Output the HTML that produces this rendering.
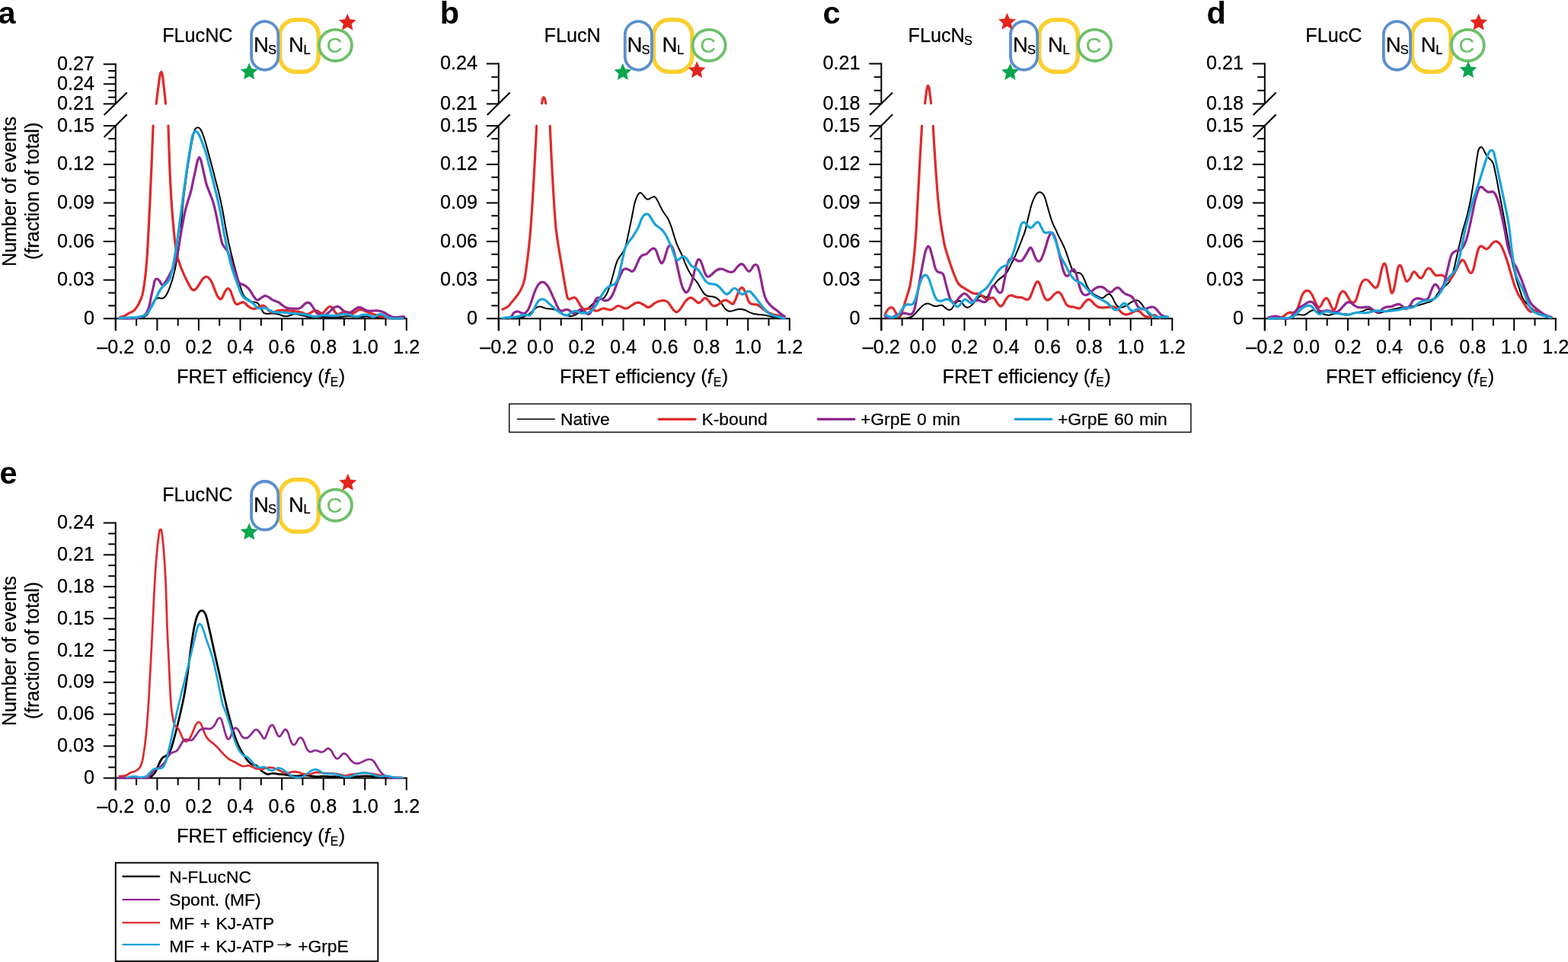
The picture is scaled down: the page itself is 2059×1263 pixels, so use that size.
<!DOCTYPE html>
<html lang="en">
<head>
<meta charset="utf-8">
<title>FRET efficiency histograms</title>
<style>
html,body{margin:0;padding:0;background:#fff;}
body{width:2059px;height:1263px;overflow:hidden;}
svg{display:block;font-family:'Liberation Sans', Arial, Helvetica, sans-serif;}
text{stroke:#000;stroke-width:0.25px;}
text.b{stroke:none;}
text.g{stroke:#6cc069;}
</style>
</head>
<body>
<svg width="2059" height="1263" viewBox="0 0 2059 1263">
<rect width="2059" height="1263" fill="#fff"/>
<line x1="135.8" y1="418.2" x2="534.8" y2="418.2" stroke="#000" stroke-width="2.0"/>
<line x1="151.8" y1="418.2" x2="151.8" y2="434.2" stroke="#000" stroke-width="2.0"/>
<line x1="179.1" y1="418.2" x2="179.1" y2="427.7" stroke="#000" stroke-width="2.0"/>
<line x1="206.4" y1="418.2" x2="206.4" y2="434.2" stroke="#000" stroke-width="2.0"/>
<line x1="233.7" y1="418.2" x2="233.7" y2="427.7" stroke="#000" stroke-width="2.0"/>
<line x1="260.9" y1="418.2" x2="260.9" y2="434.2" stroke="#000" stroke-width="2.0"/>
<line x1="288.2" y1="418.2" x2="288.2" y2="427.7" stroke="#000" stroke-width="2.0"/>
<line x1="315.5" y1="418.2" x2="315.5" y2="434.2" stroke="#000" stroke-width="2.0"/>
<line x1="342.8" y1="418.2" x2="342.8" y2="427.7" stroke="#000" stroke-width="2.0"/>
<line x1="370.1" y1="418.2" x2="370.1" y2="434.2" stroke="#000" stroke-width="2.0"/>
<line x1="397.4" y1="418.2" x2="397.4" y2="427.7" stroke="#000" stroke-width="2.0"/>
<line x1="424.7" y1="418.2" x2="424.7" y2="434.2" stroke="#000" stroke-width="2.0"/>
<line x1="451.9" y1="418.2" x2="451.9" y2="427.7" stroke="#000" stroke-width="2.0"/>
<line x1="479.2" y1="418.2" x2="479.2" y2="434.2" stroke="#000" stroke-width="2.0"/>
<line x1="506.5" y1="418.2" x2="506.5" y2="427.7" stroke="#000" stroke-width="2.0"/>
<line x1="533.8" y1="418.2" x2="533.8" y2="434.2" stroke="#000" stroke-width="2.0"/>
<text x="151.8" y="463.6" font-size="25.2" text-anchor="middle" fill="#000">–0.2</text>
<text x="206.4" y="463.6" font-size="25.2" text-anchor="middle" fill="#000">0.0</text>
<text x="260.9" y="463.6" font-size="25.2" text-anchor="middle" fill="#000">0.2</text>
<text x="315.5" y="463.6" font-size="25.2" text-anchor="middle" fill="#000">0.4</text>
<text x="370.1" y="463.6" font-size="25.2" text-anchor="middle" fill="#000">0.6</text>
<text x="424.7" y="463.6" font-size="25.2" text-anchor="middle" fill="#000">0.8</text>
<text x="479.2" y="463.6" font-size="25.2" text-anchor="middle" fill="#000">1.0</text>
<text x="533.8" y="463.6" font-size="25.2" text-anchor="middle" fill="#000">1.2</text>
<text x="342.5" y="503.2" font-size="25.4" text-anchor="middle">FRET efficiency (<tspan font-style="italic">f</tspan><tspan font-size="15.6" dy="3.4" dx="0.9">E</tspan><tspan dy="-3.4" dx="0.6">)</tspan></text>
<line x1="151.8" y1="434.2" x2="151.8" y2="165.2" stroke="#000" stroke-width="2.0"/>
<line x1="142.3" y1="401.3" x2="151.8" y2="401.3" stroke="#000" stroke-width="2.0"/>
<line x1="142.3" y1="384.5" x2="151.8" y2="384.5" stroke="#000" stroke-width="2.0"/>
<line x1="135.8" y1="367.6" x2="151.8" y2="367.6" stroke="#000" stroke-width="2.0"/>
<line x1="142.3" y1="350.7" x2="151.8" y2="350.7" stroke="#000" stroke-width="2.0"/>
<line x1="142.3" y1="333.9" x2="151.8" y2="333.9" stroke="#000" stroke-width="2.0"/>
<line x1="135.8" y1="317" x2="151.8" y2="317" stroke="#000" stroke-width="2.0"/>
<line x1="142.3" y1="300.1" x2="151.8" y2="300.1" stroke="#000" stroke-width="2.0"/>
<line x1="142.3" y1="283.3" x2="151.8" y2="283.3" stroke="#000" stroke-width="2.0"/>
<line x1="135.8" y1="266.4" x2="151.8" y2="266.4" stroke="#000" stroke-width="2.0"/>
<line x1="142.3" y1="249.5" x2="151.8" y2="249.5" stroke="#000" stroke-width="2.0"/>
<line x1="142.3" y1="232.7" x2="151.8" y2="232.7" stroke="#000" stroke-width="2.0"/>
<line x1="135.8" y1="215.8" x2="151.8" y2="215.8" stroke="#000" stroke-width="2.0"/>
<line x1="142.3" y1="198.9" x2="151.8" y2="198.9" stroke="#000" stroke-width="2.0"/>
<line x1="142.3" y1="182.1" x2="151.8" y2="182.1" stroke="#000" stroke-width="2.0"/>
<line x1="135.8" y1="165.2" x2="151.8" y2="165.2" stroke="#000" stroke-width="2.0"/>
<text x="124" y="425.8" font-size="25.2" text-anchor="end" fill="#000">0</text>
<text x="124" y="375.2" font-size="25.2" text-anchor="end" fill="#000">0.03</text>
<text x="124" y="324.6" font-size="25.2" text-anchor="end" fill="#000">0.06</text>
<text x="124" y="274" font-size="25.2" text-anchor="end" fill="#000">0.09</text>
<text x="124" y="223.4" font-size="25.2" text-anchor="end" fill="#000">0.12</text>
<text x="124" y="172.8" font-size="25.2" text-anchor="end" fill="#000">0.15</text>
<line x1="151.8" y1="136.4" x2="151.8" y2="83.3" stroke="#000" stroke-width="2.0"/>
<line x1="135.8" y1="136.4" x2="151.8" y2="136.4" stroke="#000" stroke-width="2.0"/>
<line x1="142.3" y1="127.7" x2="151.8" y2="127.7" stroke="#000" stroke-width="2.0"/>
<line x1="142.3" y1="119" x2="151.8" y2="119" stroke="#000" stroke-width="2.0"/>
<line x1="135.8" y1="110.3" x2="151.8" y2="110.3" stroke="#000" stroke-width="2.0"/>
<line x1="142.3" y1="101.7" x2="151.8" y2="101.7" stroke="#000" stroke-width="2.0"/>
<line x1="142.3" y1="93" x2="151.8" y2="93" stroke="#000" stroke-width="2.0"/>
<line x1="135.8" y1="84.3" x2="151.8" y2="84.3" stroke="#000" stroke-width="2.0"/>
<text x="124" y="144" font-size="25.2" text-anchor="end" fill="#000">0.21</text>
<text x="124" y="117.9" font-size="25.2" text-anchor="end" fill="#000">0.24</text>
<text x="124" y="91.9" font-size="25.2" text-anchor="end" fill="#000">0.27</text>
<line x1="136.7" y1="151.1" x2="166.7" y2="121.6" stroke="#000" stroke-width="2.1"/>
<line x1="136.7" y1="179.9" x2="166.7" y2="150.3" stroke="#000" stroke-width="2.1"/>
<path d="M156.3 418C160.1 418 173.7 418 179.1 417.7C184.6 417.4 186.4 416.9 188.9 416.1C191.3 415.2 192.1 415 193.7 412.7C195.3 410.3 196.9 405.1 198.6 402C200.2 398.8 202 395.5 203.4 393.7C204.9 392 206.2 391.7 207.3 391.3C208.4 390.9 209.3 391.4 210.2 391.5C211.2 391.6 212.2 392 213.1 391.8C214.1 391.6 214.9 391.5 216.1 390.3C217.2 389.1 218.6 387.1 219.9 384.5C221.2 381.9 222.5 378.5 223.8 374.8C225.1 371.1 226.6 366.2 227.7 362.2C228.8 358.1 229.5 354.7 230.4 350.5C231.3 346.3 232.2 342.1 233.1 336.9C234 331.7 235.1 324.6 235.8 319.4C236.5 314.2 236.6 312.8 237.2 305.8C237.8 298.8 238.8 284.6 239.4 277.4C240 270.3 240.3 267.7 240.8 262.9C241.3 258 242 253.1 242.6 248.3C243.2 243.4 243.9 238.6 244.5 233.7C245.2 228.9 245.9 224 246.6 219.1C247.4 214.3 248.1 209.4 248.9 204.6C249.7 199.7 250.6 194.3 251.4 190C252.1 185.7 252.9 181.9 253.5 179C254.1 176.1 254.3 174.4 254.9 172.7C255.5 171 256 169.7 256.8 168.8C257.7 167.9 258.9 167.2 259.8 167.2C260.7 167.1 261.3 167.5 262.2 168.5C263.1 169.5 264.1 170.8 265.1 173.2C266.2 175.6 267.5 179.7 268.5 182.9C269.6 186.1 270.4 189 271.4 192.6C272.4 196.2 273.5 200.1 274.7 204.6C275.9 209 277.3 214.3 278.5 219.1C279.8 224 281.1 228.9 282.3 233.7C283.6 238.6 284.9 243.4 286.1 248.3C287.3 253.1 288.6 258.5 289.6 262.9C290.6 267.2 291.2 270.5 292 274.5C292.8 278.6 293.5 283.1 294.3 287.1C295 291.2 295.3 293.4 296.3 298.8C297.3 304.2 298.9 312.4 300.4 319.4C302 326.4 303.9 334.3 305.6 340.8C307.2 347.3 308.8 353.1 310.3 358.3C311.7 363.5 312.9 367.7 314.2 371.9C315.5 376.1 316.9 380.6 318 383.5C319.2 386.4 319.8 387.9 321 389.4C322.1 390.8 323.4 391.2 324.8 392.3C326.3 393.3 328.2 394.9 329.7 395.7C331.2 396.4 332.5 396.4 333.6 396.6C334.7 396.9 335.5 396.7 336.5 397.1C337.5 397.5 338.3 397.6 339.4 399.1C340.5 400.5 342.2 403.9 343.3 405.9C344.4 407.8 345.6 409.8 346.2 410.7C346.9 411.6 346.3 411 347.2 411.2C348 411.4 349.9 411.9 351.5 411.9C353 411.9 354.8 411.5 356.7 411.5C358.6 411.5 361 411.6 362.9 411.9C364.8 412.2 366.5 412.9 368.2 413.5C369.9 414 371.4 414.8 373 415.1C374.6 415.4 376.3 415.4 377.9 415.1C379.5 414.8 381.1 413.9 382.7 413.5C384.4 413 385 412 387.6 412.2C390.2 412.4 395.2 413.9 398.3 414.6C401.4 415.3 403.5 416 406.1 416.4C408.6 416.7 410.9 416.6 413.8 416.6C416.7 416.5 420.3 416.1 423.5 416.1C426.8 416.1 430 416.5 433.2 416.6C436.5 416.6 440 416.7 443 416.6C445.9 416.4 448.1 416 450.7 415.8C453.3 415.5 455.9 415.1 458.5 415.1C461.1 415.2 463.4 415.9 466.3 416.1C469.2 416.2 473.4 416.2 476 416.1C478.6 416 479.9 415.5 481.8 415.6C483.8 415.7 485.4 416.3 487.6 416.6C489.9 416.8 492.5 416.9 495.4 417C498.3 417.2 501.9 417.4 505.1 417.5C508.4 417.7 510.8 417.9 514.8 418C518.9 418.1 527 418.1 529.4 418.1" fill="none" stroke="#000" stroke-width="2.0" stroke-linejoin="round" stroke-linecap="round"/>
<path d="M156.9 417C157.3 416.9 158.4 416.6 159.7 416.1C161 415.6 163 414.9 164.6 414.1C166.2 413.3 167.6 412.2 169.4 411.2C171.2 410.2 173.6 409.5 175.3 408.3C176.9 407.1 177.8 405.8 179.1 403.9C180.4 402.1 181.7 399.9 183 397.1C184.3 394.4 185.9 391.3 186.9 387.4C188 383.5 188.6 378.7 189.3 373.8C190 369 190.7 364.1 191.3 358.3C191.9 352.5 192.5 345.3 193 338.9C193.5 332.4 193.7 328 194.2 319.4C194.6 310.8 195.4 295.8 195.8 287.1C196.3 278.5 196.5 274.2 196.8 267.7C197.1 261.2 197.4 254.8 197.6 248.3C197.9 241.8 198.2 235.3 198.5 228.9C198.8 222.4 199.1 215.9 199.3 209.4C199.6 203 199.9 195.7 200.1 190C200.3 184.3 200.5 179.3 200.7 175.1C200.8 171 201 166.8 201.1 165.1" fill="none" stroke="#de2a2b" stroke-width="3.2" stroke-linejoin="round" stroke-linecap="round"/>
<path d="M205.2 136.1C205.5 133.7 206.3 126.5 206.9 121.7C207.6 116.9 208.3 111.1 208.9 107.1C209.4 103.2 209.8 100 210.2 97.9C210.7 95.8 211.2 94.3 211.7 94.3C212.2 94.3 212.7 95.8 213.1 97.9C213.6 100 213.9 103.2 214.4 107.1C214.8 111.1 215.5 116.9 216 121.7C216.6 126.5 217.3 133.7 217.5 136.1" fill="none" stroke="#de2a2b" stroke-width="3.2" stroke-linejoin="round" stroke-linecap="round"/>
<path d="M221 165.1C221 166.8 221.2 171 221.3 175.1C221.5 179.3 221.6 184.3 221.8 190C222 195.7 222.2 203 222.4 209.4C222.6 215.9 222.9 222.4 223.2 228.9C223.5 235.3 223.8 241.8 224.2 248.3C224.5 254.8 224.9 261.2 225.4 267.7C225.8 274.2 226.2 279.6 226.8 287.1C227.5 294.6 228.5 306 229.2 312.6C229.9 319.3 230.5 322.8 231.2 327.2C232 331.6 232.5 335 233.5 338.9C234.6 342.7 236 346.6 237.4 350.5C238.9 354.4 240.7 358.6 242.3 362.2C243.9 365.7 245.7 369.1 247.1 371.9C248.6 374.6 249.9 377.2 251 378.7C252.2 380.2 253 380.7 253.9 380.8C254.9 381 255.7 380.7 256.8 379.7C258 378.6 259.3 376.9 260.7 374.8C262.2 372.7 264.3 368.8 265.6 367C266.9 365.2 267.6 364.7 268.5 364.1C269.4 363.5 270 363.2 270.9 363.3C271.9 363.5 273.1 363.8 274.3 365.1C275.5 366.3 276.9 368.3 278.2 370.9C279.5 373.5 280.8 377.5 282.1 380.6C283.4 383.7 284.8 387.3 286 389.4C287.2 391.4 288.4 392.5 289.4 392.8C290.4 393 290.9 392.2 291.8 390.8C292.7 389.4 293.8 386.4 294.7 384.5C295.7 382.6 296.8 380.6 297.6 379.7C298.5 378.7 299.3 378.5 300.1 378.9C300.9 379.2 301.6 379.8 302.5 381.6C303.4 383.3 304.4 386.8 305.4 389.4C306.4 392 307.4 395.4 308.3 397.1C309.3 398.8 310.1 399.4 311.2 399.6C312.4 399.7 313.8 398.6 315.1 398.1C316.4 397.6 317.9 396.6 319 396.6C320.1 396.6 320.8 397.2 321.9 398.1C323.1 399 324.5 400.9 325.8 402C327.1 403 328.2 403.9 329.7 404.4C331.2 405 332.9 405.6 334.6 405.4C336.2 405.2 337.5 404.1 339.4 403.4C341.3 402.8 344.1 401.1 345.8 401.2C347.5 401.3 348.4 402.6 349.7 403.8C351 405 352.1 407.4 353.6 408.4C355.1 409.4 356.8 410.1 358.5 410.1C360.1 410 361.7 408.8 363.3 408.3C364.9 407.9 366.4 407.5 368.2 407.3C369.9 407.2 371.9 407.2 374 407.3C376.1 407.4 378.4 407.8 380.8 408C383.2 408.3 386.3 408.5 388.6 408.8C390.8 409.1 392.8 409.4 394.4 409.8C396 410.2 396.8 410.7 398.3 411.2C399.7 411.7 401.5 412.8 403.1 412.7C404.8 412.6 406.4 411.5 408 410.7C409.6 409.9 411.4 408.2 412.9 407.8C414.3 407.4 415.4 407.8 416.7 408.3C418 408.8 419.5 410.2 420.6 410.7C421.8 411.2 422.6 411.5 423.5 411.2C424.5 410.9 425.3 410 426.4 408.8C427.6 407.6 429.2 405 430.3 403.9C431.5 402.9 432.3 402.5 433.2 402.5C434.2 402.5 435 402.7 436.2 403.9C437.3 405.1 438.9 408.3 440 409.8C441.2 411.2 441.8 412.4 443 412.7C444.1 413 445.4 412.3 446.8 411.7C448.3 411.1 450.1 409.6 451.7 409.3C453.3 409 454.9 409.4 456.6 409.8C458.2 410.2 460 411.5 461.4 411.7C462.9 411.9 464 411.4 465.3 410.7C466.6 410.1 467.9 408.5 469.2 407.8C470.5 407.1 471.8 406.4 473.1 406.4C474.4 406.3 475.2 406.7 477 407.3C478.7 408 481.7 409.4 483.8 410.2C485.9 411.1 487.8 411.6 489.6 412.2C491.4 412.8 492.8 413.2 494.4 413.6C496.1 414.1 497.5 414.6 499.3 415.1C501.1 415.6 503.2 416.1 505.1 416.6C507.1 417 508.5 417.5 511 417.7C513.4 418 516.7 418 519.7 418C522.7 418.1 527.3 418 528.8 418" fill="none" stroke="#de2a2b" stroke-width="3.2" stroke-linejoin="round" stroke-linecap="round"/>
<path d="M156.9 418C159 418 165.7 418.1 169.4 418C173.1 417.9 176.2 417.7 179.1 417.3C182.1 416.9 184.8 416.5 186.9 415.6C189 414.7 190.3 413.8 191.8 411.7C193.2 409.6 194.5 406.7 195.7 403C196.8 399.2 197.5 394.1 198.5 389.4C199.6 384.7 201 378.4 201.8 374.8C202.6 371.2 202.7 369.5 203.4 368C204.2 366.5 205.4 366 206.3 366.1C207.3 366.1 208.1 367.1 209.3 368.5C210.4 369.9 211.7 374.2 213.1 374.3C214.6 374.4 216.5 371 218 369C219.5 366.9 220.6 364.6 221.9 362.2C223.2 359.7 224.3 357.6 225.8 354.4C227.2 351.2 229.3 346.9 230.6 342.7C231.9 338.5 232.6 334.3 233.6 329.1C234.6 324 235.9 316.6 236.7 312C237.5 307.4 237.7 305.8 238.4 301.7C239.2 297.6 240.2 291.7 241.1 287.1C242 282.6 242.7 278.6 243.7 274.5C244.7 270.5 246 266.6 247.1 262.9C248.3 259.1 249.6 255.7 250.5 252.2C251.5 248.6 252 245.4 252.8 241.5C253.6 237.6 254.6 232.9 255.5 228.9C256.3 224.8 257.3 220.4 258 217.2C258.7 214 259.1 211.7 259.8 209.9C260.4 208.1 261.1 206.5 261.7 206.5C262.4 206.5 263 208.1 263.6 209.9C264.3 211.7 264.7 214 265.4 217.2C266.1 220.4 267.2 225.1 268.1 228.9C268.9 232.6 269.6 236.3 270.4 239.5C271.3 242.8 272.2 245.2 273.4 248.3C274.5 251.4 276 254.8 277.2 258C278.5 261.2 279.6 264.1 280.6 267.7C281.7 271.3 282.4 275.3 283.3 279.4C284.2 283.4 285.2 288.3 285.9 292C286.7 295.7 287.2 298.8 287.8 301.7C288.4 304.7 288.8 306.8 289.4 309.7C290.1 312.7 290.7 316.8 291.7 319.4C292.7 322 294.1 323.5 295.3 325.3C296.5 327 297.7 327.8 298.9 330.1C300.1 332.4 301.3 335.5 302.5 338.9C303.7 342.3 305.1 346.6 306.4 350.5C307.7 354.4 309 358.7 310.3 362.2C311.6 365.6 312.9 369.5 314.2 371.4C315.5 373.3 316.6 372.6 318 373.3C319.5 374.1 321.3 374.6 322.9 375.8C324.5 377 326.1 378.5 327.8 380.6C329.4 382.7 331.2 386.3 332.6 388.4C334.1 390.5 335.4 392.4 336.5 393.2C337.6 394.1 338.3 394.1 339.4 393.7C340.5 393.3 342 391.7 343.3 390.8C344.6 390 346.4 389 347.2 388.6C348 388.1 347.3 387.9 348.3 388.2C349.2 388.4 351.1 389.1 352.6 390C354.2 390.9 356 392.7 357.5 393.5C358.9 394.4 359.9 394.5 361.4 395.1C362.8 395.7 364.6 396.1 366.2 397.1C367.8 398.1 369.5 399.9 371.1 401C372.7 402.2 374.3 403.3 375.9 403.9C377.6 404.6 379 404.7 380.8 404.9C382.6 405.1 384.7 405.1 386.6 405.1C388.6 405.1 390.8 405.5 392.5 405.1C394.1 404.7 395 404 396.3 403C397.6 402 398.9 400 400.2 399.1C401.5 398.1 402.8 397.1 404.1 397.1C405.4 397.1 406.7 397.8 408 399.1C409.3 400.4 410.6 403 411.9 404.9C413.2 406.8 414.5 409.4 415.8 410.7C417.1 412.1 418.4 412.7 419.7 413.2C420.9 413.6 422.2 413.6 423.5 413.6C424.8 413.6 426 413.8 427.4 413.2C428.9 412.5 430.7 411.1 432.3 409.8C433.9 408.4 435.5 406.1 437.1 404.9C438.8 403.7 440.5 402.7 442 402.5C443.4 402.2 444.6 402.7 445.9 403.4C447.2 404.2 448.5 405.8 449.8 406.8C451.1 407.9 452.2 409.1 453.6 409.8C455.1 410.4 457 410.7 458.5 410.5C460 410.4 461.1 409.6 462.4 408.8C463.7 408 464.8 406.8 466.3 405.9C467.7 405 469.5 403.6 471.1 403.4C472.8 403.3 474.4 404.2 476 404.9C477.6 405.6 479.2 407.1 480.8 407.6C482.5 408.2 483.9 408.2 485.7 408.3C487.5 408.4 489.6 408 491.5 408C493.5 408 495.4 407.8 497.4 408.1C499.3 408.4 501.2 408.9 503.2 409.8C505.1 410.6 507.1 412.1 509 413.2C511 414.2 513.1 415.5 514.8 416.1C516.6 416.6 518.1 416.6 519.7 416.6C521.3 416.6 522.9 416.2 524.6 416.1C526.2 415.9 528.4 415.6 529.4 415.6C530.5 415.6 530.6 416 530.9 416.1" fill="none" stroke="#90278f" stroke-width="3.2" stroke-linejoin="round" stroke-linecap="round"/>
<path d="M156.9 417.7C159 417.6 165.7 417.2 169.4 417C173.1 416.9 176.2 416.9 179.1 416.6C182.1 416.2 184.8 415.8 186.9 415.1C189 414.5 190.1 414.1 191.8 412.7C193.4 411.3 195 409.3 196.6 406.8C198.2 404.4 199.9 401.2 201.5 398.1C203.1 395 204.9 391.3 206.3 388.4C207.8 385.5 208.9 382.7 210.2 380.6C211.5 378.5 212.8 377.1 214.1 375.8C215.4 374.4 216.7 373.7 218 372.4C219.3 371.1 220.7 370 221.9 368C223 366 223.9 363.5 224.8 360.2C225.7 357 226.4 353.3 227.3 348.6C228.2 343.9 229.4 337.7 230.3 332.1C231.2 326.4 232 321.2 232.9 314.6C233.9 307.9 235.2 298.2 236 292C236.8 285.8 237.3 282.3 237.9 277.4C238.6 272.6 239.2 267.7 239.8 262.9C240.5 258 241.1 253.1 241.8 248.3C242.4 243.4 243.1 238.6 243.8 233.7C244.4 228.9 245.1 224 245.9 219.1C246.6 214.3 247.4 209.4 248.1 204.6C248.9 199.7 249.8 194.4 250.6 190C251.3 185.6 251.8 180.9 252.7 178C253.5 175.2 254.9 174 255.6 173C256.4 172 256.5 172 257.2 172.2C257.9 172.4 258.8 172.9 259.7 174.2C260.6 175.5 261.5 177.4 262.7 180C263.8 182.6 265.3 186.4 266.6 189.7C267.8 193 269 195.6 270.2 199.7C271.5 203.8 272.7 209.4 273.9 214.3C275.2 219.1 276.4 224 277.6 228.9C278.9 233.7 280.1 238.6 281.3 243.4C282.5 248.3 283.8 253.5 284.9 258C286 262.5 286.9 266.6 287.8 270.6C288.6 274.7 289.3 277.9 290.1 282.3C290.9 286.6 292.1 293.9 292.6 296.8C293.2 299.8 292.7 297.4 293.2 300C293.6 302.6 294.4 307.4 295.5 312.6C296.5 317.8 298.1 325.1 299.4 331.1C300.8 337.1 302.2 343.2 303.6 348.6C305.1 353.9 306.7 358.4 308.3 363.1C309.9 367.8 311.7 372.9 313.2 376.7C314.6 380.6 315.8 384 317.1 386.4C318.4 388.9 319.3 389.9 321 391.3C322.6 392.7 325 393.7 326.8 394.7C328.6 395.8 330.2 396.5 331.6 397.6C333.1 398.8 334.4 400.4 335.5 401.5C336.7 402.6 337.3 403.9 338.4 404.4C339.6 405 341 404.7 342.3 404.7C343.6 404.7 345.1 404.5 346.2 404.4C347.3 404.4 347.7 404 348.7 404.4C349.8 404.7 351.2 405.8 352.6 406.6C354.1 407.4 355.9 408.5 357.5 409.1C359.1 409.7 360.4 410 362.3 410.2C364.3 410.4 366.7 410.2 369.1 410.2C371.6 410.3 374.5 410.5 376.9 410.7C379.3 410.9 381.4 411.3 383.7 411.5C386 411.7 388.1 411.7 390.5 411.9C392.9 412.1 395.7 412.3 398.3 412.7C400.9 413 403.8 413.6 406.1 414.1C408.3 414.6 409.9 415.4 411.9 415.6C413.8 415.8 415.8 415.4 417.7 415.1C419.7 414.8 421.6 414.1 423.5 413.8C425.5 413.6 427.4 413.7 429.4 413.8C431.3 413.9 433.2 414.3 435.2 414.4C437.1 414.6 439.1 414.8 441 414.6C443 414.4 444.9 413.5 446.8 413.2C448.8 412.8 450.7 412.5 452.7 412.5C454.6 412.5 456.4 412.7 458.5 413.2C460.6 413.6 463.4 414.7 465.3 415.1C467.2 415.5 468.5 415.6 470.2 415.4C471.8 415.2 473.4 414.2 475 413.8C476.6 413.5 478.3 413.1 479.9 413.2C481.5 413.2 483.1 413.6 484.7 414.1C486.3 414.6 488.3 415.8 489.6 416.1C490.9 416.3 491.4 416.1 492.5 415.6C493.6 415.1 495.1 413.7 496.4 413.2C497.7 412.6 499 412.3 500.3 412.5C501.6 412.6 502.7 413.4 504.2 414.1C505.6 414.9 507.2 416.4 509 417C510.8 417.7 512.7 417.9 514.8 418C516.9 418.2 519.3 418 521.6 418C524 418 527.6 418 528.8 418" fill="none" stroke="#1aa3d8" stroke-width="3.2" stroke-linejoin="round" stroke-linecap="round"/>
<line x1="638.8" y1="418.2" x2="1037.8" y2="418.2" stroke="#000" stroke-width="2.0"/>
<line x1="654.8" y1="418.2" x2="654.8" y2="434.2" stroke="#000" stroke-width="2.0"/>
<line x1="682.1" y1="418.2" x2="682.1" y2="427.7" stroke="#000" stroke-width="2.0"/>
<line x1="709.4" y1="418.2" x2="709.4" y2="434.2" stroke="#000" stroke-width="2.0"/>
<line x1="736.7" y1="418.2" x2="736.7" y2="427.7" stroke="#000" stroke-width="2.0"/>
<line x1="763.9" y1="418.2" x2="763.9" y2="434.2" stroke="#000" stroke-width="2.0"/>
<line x1="791.2" y1="418.2" x2="791.2" y2="427.7" stroke="#000" stroke-width="2.0"/>
<line x1="818.5" y1="418.2" x2="818.5" y2="434.2" stroke="#000" stroke-width="2.0"/>
<line x1="845.8" y1="418.2" x2="845.8" y2="427.7" stroke="#000" stroke-width="2.0"/>
<line x1="873.1" y1="418.2" x2="873.1" y2="434.2" stroke="#000" stroke-width="2.0"/>
<line x1="900.4" y1="418.2" x2="900.4" y2="427.7" stroke="#000" stroke-width="2.0"/>
<line x1="927.7" y1="418.2" x2="927.7" y2="434.2" stroke="#000" stroke-width="2.0"/>
<line x1="954.9" y1="418.2" x2="954.9" y2="427.7" stroke="#000" stroke-width="2.0"/>
<line x1="982.2" y1="418.2" x2="982.2" y2="434.2" stroke="#000" stroke-width="2.0"/>
<line x1="1009.5" y1="418.2" x2="1009.5" y2="427.7" stroke="#000" stroke-width="2.0"/>
<line x1="1036.8" y1="418.2" x2="1036.8" y2="434.2" stroke="#000" stroke-width="2.0"/>
<text x="654.8" y="463.6" font-size="25.2" text-anchor="middle" fill="#000">–0.2</text>
<text x="709.4" y="463.6" font-size="25.2" text-anchor="middle" fill="#000">0.0</text>
<text x="763.9" y="463.6" font-size="25.2" text-anchor="middle" fill="#000">0.2</text>
<text x="818.5" y="463.6" font-size="25.2" text-anchor="middle" fill="#000">0.4</text>
<text x="873.1" y="463.6" font-size="25.2" text-anchor="middle" fill="#000">0.6</text>
<text x="927.7" y="463.6" font-size="25.2" text-anchor="middle" fill="#000">0.8</text>
<text x="982.2" y="463.6" font-size="25.2" text-anchor="middle" fill="#000">1.0</text>
<text x="1036.8" y="463.6" font-size="25.2" text-anchor="middle" fill="#000">1.2</text>
<text x="845.5" y="503.2" font-size="25.4" text-anchor="middle">FRET efficiency (<tspan font-style="italic">f</tspan><tspan font-size="15.6" dy="3.4" dx="0.9">E</tspan><tspan dy="-3.4" dx="0.6">)</tspan></text>
<line x1="654.8" y1="434.2" x2="654.8" y2="165.2" stroke="#000" stroke-width="2.0"/>
<line x1="645.3" y1="401.3" x2="654.8" y2="401.3" stroke="#000" stroke-width="2.0"/>
<line x1="645.3" y1="384.5" x2="654.8" y2="384.5" stroke="#000" stroke-width="2.0"/>
<line x1="638.8" y1="367.6" x2="654.8" y2="367.6" stroke="#000" stroke-width="2.0"/>
<line x1="645.3" y1="350.7" x2="654.8" y2="350.7" stroke="#000" stroke-width="2.0"/>
<line x1="645.3" y1="333.9" x2="654.8" y2="333.9" stroke="#000" stroke-width="2.0"/>
<line x1="638.8" y1="317" x2="654.8" y2="317" stroke="#000" stroke-width="2.0"/>
<line x1="645.3" y1="300.1" x2="654.8" y2="300.1" stroke="#000" stroke-width="2.0"/>
<line x1="645.3" y1="283.3" x2="654.8" y2="283.3" stroke="#000" stroke-width="2.0"/>
<line x1="638.8" y1="266.4" x2="654.8" y2="266.4" stroke="#000" stroke-width="2.0"/>
<line x1="645.3" y1="249.5" x2="654.8" y2="249.5" stroke="#000" stroke-width="2.0"/>
<line x1="645.3" y1="232.7" x2="654.8" y2="232.7" stroke="#000" stroke-width="2.0"/>
<line x1="638.8" y1="215.8" x2="654.8" y2="215.8" stroke="#000" stroke-width="2.0"/>
<line x1="645.3" y1="198.9" x2="654.8" y2="198.9" stroke="#000" stroke-width="2.0"/>
<line x1="645.3" y1="182.1" x2="654.8" y2="182.1" stroke="#000" stroke-width="2.0"/>
<line x1="638.8" y1="165.2" x2="654.8" y2="165.2" stroke="#000" stroke-width="2.0"/>
<text x="627" y="425.8" font-size="25.2" text-anchor="end" fill="#000">0</text>
<text x="627" y="375.2" font-size="25.2" text-anchor="end" fill="#000">0.03</text>
<text x="627" y="324.6" font-size="25.2" text-anchor="end" fill="#000">0.06</text>
<text x="627" y="274" font-size="25.2" text-anchor="end" fill="#000">0.09</text>
<text x="627" y="223.4" font-size="25.2" text-anchor="end" fill="#000">0.12</text>
<text x="627" y="172.8" font-size="25.2" text-anchor="end" fill="#000">0.15</text>
<line x1="654.8" y1="136.4" x2="654.8" y2="82.6" stroke="#000" stroke-width="2.0"/>
<line x1="638.8" y1="136.4" x2="654.8" y2="136.4" stroke="#000" stroke-width="2.0"/>
<line x1="645.3" y1="118.8" x2="654.8" y2="118.8" stroke="#000" stroke-width="2.0"/>
<line x1="645.3" y1="101.2" x2="654.8" y2="101.2" stroke="#000" stroke-width="2.0"/>
<line x1="638.8" y1="83.6" x2="654.8" y2="83.6" stroke="#000" stroke-width="2.0"/>
<text x="627" y="144" font-size="25.2" text-anchor="end" fill="#000">0.21</text>
<text x="627" y="91.2" font-size="25.2" text-anchor="end" fill="#000">0.24</text>
<line x1="639.7" y1="151.1" x2="669.6" y2="121.6" stroke="#000" stroke-width="2.1"/>
<line x1="639.7" y1="179.9" x2="669.6" y2="150.3" stroke="#000" stroke-width="2.1"/>
<path d="M659.3 418.3C662.8 418.3 675.6 418.4 680.2 418C684.8 417.6 684.7 416.9 687 416.1C689.3 415.3 691.9 414.4 693.8 413.2C695.7 411.9 697 410.2 698.7 408.8C700.3 407.3 702.1 405.5 703.5 404.4C705 403.4 706.1 402.7 707.4 402.5C708.7 402.2 709.8 402.6 711.3 403C712.7 403.3 714.5 404.3 716.1 404.7C717.8 405.1 719.4 405.2 721 405.4C722.6 405.6 724.2 405.6 725.9 405.9C727.5 406.2 729.1 406.6 730.7 407.3C732.3 408.1 733.9 409.4 735.6 410.2C737.2 411.1 738.6 411.9 740.4 412.7C742.2 413.4 744.6 414.2 746.2 414.6C747.9 415 748.7 415.3 750.1 415.1C751.6 414.9 753.4 414.4 755 413.6C756.6 412.9 758.2 411.6 759.8 410.7C761.5 409.8 763.1 409.1 764.7 408.3C766.3 407.5 767.9 406.8 769.6 405.9C771.2 405 773 404.1 774.4 403C775.9 401.8 776.8 400.3 778.3 399.1C779.8 397.9 781.5 396.6 783.2 395.7C784.8 394.7 786.4 394 788 393.2C789.6 392.5 791.4 392.6 792.9 391.3C794.3 390 795.6 387.6 796.8 385.5C797.9 383.4 798.7 381.3 799.7 378.7C800.6 376.1 801.6 373.2 802.6 369.9C803.6 366.7 804.5 362.8 805.5 359.3C806.5 355.7 807.4 351.6 808.4 348.6C809.4 345.5 810.2 343.1 811.3 340.8C812.5 338.5 813.9 336.9 815.2 335C816.5 333 818 331.4 819.1 329.1C820.2 326.9 821.1 324.6 822 321.4C822.9 318.1 823.6 314.6 824.6 309.7C825.7 304.9 827.2 297.3 828.3 292.3C829.3 287.3 830 283.7 830.8 279.7C831.6 275.6 832.3 271.2 833.1 268C833.9 264.8 834.7 262.5 835.6 260.2C836.5 258 837.5 255.6 838.5 254.4C839.4 253.2 840.4 252.9 841.4 253.1C842.4 253.4 843.3 254.7 844.3 255.9C845.4 257 846.6 259.3 847.7 260.2C848.8 261.2 849.9 261.8 851.1 261.7C852.3 261.6 853.8 260.3 855 259.7C856.2 259.2 857.4 258.4 858.4 258.3C859.4 258.2 859.9 258.3 860.8 259.3C861.7 260.2 862.8 262.3 863.7 264.1C864.7 265.9 865.7 268 866.6 269.9C867.6 271.9 868.4 273.8 869.6 275.8C870.7 277.7 872.2 279.7 873.4 281.6C874.7 283.5 876.2 285.3 877.3 287.4C878.5 289.5 879.3 291.6 880.2 294.2C881.2 296.8 882.3 300.4 883.2 303C884 305.5 884.4 307.1 885.2 309.7C886 312.3 886.9 315.5 888 318.5C889.1 321.4 890.5 324.4 891.8 327.2C893 329.9 894.3 332.1 895.6 335C896.8 337.9 898.1 341.6 899.3 344.7C900.6 347.8 901.9 350.8 903.2 353.4C904.5 356 905.8 358.2 907.1 360.2C908.4 362.2 909.5 363.7 911 365.6C912.5 367.4 914.2 369 915.9 371.4C917.5 373.7 919.3 377.3 920.7 379.7C922.2 382 923.3 384 924.6 385.5C925.9 386.9 927.2 387.8 928.5 388.4C929.8 389 931.1 389 932.4 389.2C933.7 389.3 935 389.1 936.2 389.4C937.5 389.6 938.8 390.1 940.1 390.8C941.4 391.5 942.7 392.4 944 393.7C945.3 395.1 946.6 397.2 947.9 399.1C949.2 400.9 950.5 403.4 951.8 404.9C953.1 406.4 954.4 407.4 955.7 408C957 408.6 958.1 408.7 959.6 408.6C961 408.5 962.8 407.8 964.4 407.3C966 406.9 967.7 406.3 969.3 406.1C970.9 405.8 972.5 405.7 974.1 405.9C975.8 406.1 977.4 406.7 979 407.3C980.6 408 982.2 409 983.8 409.8C985.5 410.5 986.9 411.2 988.7 411.7C990.5 412.2 992.3 412.4 994.5 412.7C996.8 413 999.7 413 1002.3 413.5C1004.9 413.9 1007.5 414.5 1010.1 415.1C1012.7 415.7 1015.1 416.5 1017.8 417C1020.6 417.6 1025.1 418 1026.6 418.2" fill="none" stroke="#000" stroke-width="2.0" stroke-linejoin="round" stroke-linecap="round"/>
<path d="M659.8 406.1C660.3 405.9 661.4 405.6 662.7 404.9C664 404.2 666 403.4 667.6 402C669.2 400.5 670.8 398.1 672.4 396.2C674 394.2 675.7 392.4 677.3 390.3C678.9 388.2 680.7 386 682.1 383.5C683.6 381.1 684.9 378.7 686 375.8C687.2 372.9 688.1 369.9 688.9 366.1C689.8 362.2 690.4 357.3 691 352.5C691.7 347.6 692.5 342.1 693.1 336.9C693.7 331.7 694.3 326.2 694.8 321.4C695.3 316.5 695.8 311.3 696.2 307.8C696.5 304.2 696.4 305.5 696.8 299.9C697.3 294.3 698 284.3 698.6 274.2C699.3 264.1 700.1 250.9 700.7 239.3C701.4 227.7 702.1 214.7 702.6 204.5C703.2 194.3 703.6 184.9 704 178.4C704.3 171.8 704.5 167.5 704.6 165.3" fill="none" stroke="#de2a2b" stroke-width="3.2" stroke-linejoin="round" stroke-linecap="round"/>
<path d="M711.5 135.7C711.7 134.7 712.2 131.3 712.6 130C713 128.6 713.5 127.5 714 127.5C714.4 127.5 714.9 128.6 715.4 130C715.8 131.3 716.4 134.7 716.6 135.7" fill="none" stroke="#de2a2b" stroke-width="3.2" stroke-linejoin="round" stroke-linecap="round"/>
<path d="M722.2 165.3C722.4 169 722.8 179.1 723.2 187.1C723.6 195.1 723.9 203 724.5 213.2C725 223.4 725.8 237.9 726.4 248C727 258.2 727.5 266.3 728 274.2C728.6 282 729.2 290.8 729.6 295.1C729.9 299.4 729.7 297.6 730 300C730.3 302.4 730.8 306.2 731.3 309.7C731.8 313.3 732.3 316.8 733 321.4C733.8 325.9 734.7 331.4 735.6 336.9C736.5 342.4 737.5 348.6 738.5 354.4C739.5 360.2 740.6 366.7 741.5 371.9C742.4 377.1 743.4 382.2 744 385.5C744.7 388.7 744.7 390.1 745.3 391.3C745.9 392.5 746.7 392.8 747.7 392.8C748.7 392.8 750.1 391.7 751.1 391.3C752.2 390.9 753 390.4 754 390.5C755 390.7 756 391.2 756.9 392.3C757.9 393.4 758.9 395.5 759.8 397.1C760.8 398.8 761.8 400.6 762.8 402C763.7 403.4 764.5 404.7 765.7 405.4C766.8 406 768.3 405.9 769.6 405.9C770.9 405.8 772.2 405.1 773.4 405.2C774.7 405.3 776 405.9 777.3 406.4C778.6 406.8 780.1 407.5 781.2 407.8C782.4 408.1 783 408.3 784.1 408C785.3 407.8 786.6 406.9 788 406.4C789.5 405.8 791.4 405 792.9 404.9C794.3 404.8 795.3 405.6 796.8 405.9C798.2 406.2 800.2 406.9 801.6 406.8C803.1 406.8 804.2 406.1 805.5 405.4C806.8 404.7 808.3 403.1 809.4 402.5C810.5 401.8 811.2 401.4 812.3 401.5C813.4 401.6 814.9 402.4 816.2 403C817.5 403.5 818.8 404.5 820.1 404.7C821.4 405 822.5 405 824 404.4C825.4 403.9 827.2 402.5 828.8 401.5C830.4 400.5 832.2 399 833.7 398.3C835.1 397.6 836.3 397.2 837.6 397.1C838.9 397.1 839.9 397.4 841.4 398.1C843 398.8 845.3 400.3 846.9 401.2C848.4 402.1 849.5 403.3 850.8 403.4C852.1 403.5 853.2 403 854.7 402.1C856.1 401.2 857.9 399.2 859.5 398.2C861.1 397.1 862.8 396.3 864.4 395.7C866 395.1 867.8 394.9 869.2 394.7C870.7 394.5 871.8 394.4 873.1 394.7C874.4 395 875.7 395.4 877 396.6C878.3 397.9 879.6 400.2 880.9 402C882.2 403.8 883.5 406 884.8 407.3C886.1 408.6 887.4 409.8 888.7 409.8C889.9 409.7 891.2 408.3 892.5 406.8C893.8 405.4 895 403.1 896.4 401C897.9 398.9 899.8 395.8 901.3 394.2C902.7 392.6 904 391.8 905.2 391.3C906.3 390.8 906.9 390.7 908.1 391.1C909.2 391.5 910.7 392.7 912 393.7C913.3 394.7 914.8 396.5 915.9 397.1C916.9 397.8 917.3 398 918.3 397.6C919.3 397.2 920.6 395.7 921.7 394.7C922.7 393.7 923.7 392.3 924.6 391.8C925.5 391.3 926.1 391 927 391.5C928 392 929.2 393.3 930.4 394.7C931.6 396.1 933 398.9 934.3 400C935.6 401.2 936.9 401.7 938.2 401.8C939.5 401.9 940.8 401.2 942.1 400.5C943.4 399.8 944.7 398.6 946 397.6C947.3 396.6 948.6 395.3 949.8 394.7C951.1 394.1 952.1 393.9 953.2 394C954.4 394.2 955.4 394.9 956.6 395.7C957.9 396.4 959.5 398.1 960.5 398.6C961.6 399.1 962.1 399.5 963 398.6C963.9 397.7 964.9 395.4 965.9 393.2C966.8 391.1 967.9 387.7 968.8 385.5C969.7 383.3 970.3 381.4 971.2 380.1C972.1 378.8 973.2 377.7 974.1 377.7C975.1 377.7 976.1 378.5 977 380.1C978 381.8 979 384.9 980 387.4C980.9 389.9 981.9 393.3 982.9 395.2C983.8 397.1 984.7 397.9 985.8 398.6C986.9 399.3 988.4 399.4 989.7 399.6C991 399.8 992.3 399.4 993.6 399.9C994.9 400.3 996 401 997.4 402C998.9 403 1000.7 404.7 1002.3 405.9C1003.9 407.1 1005.5 408.3 1007.2 409.3C1008.8 410.2 1010.2 411 1012 411.7C1013.8 412.4 1015.7 413.2 1017.8 413.6C1019.9 414.1 1022.6 414.4 1024.6 414.6C1026.6 414.8 1029 414.9 1029.8 415" fill="none" stroke="#de2a2b" stroke-width="3.2" stroke-linejoin="round" stroke-linecap="round"/>
<path d="M669.6 417.8C669.9 417.4 670.7 416.7 671.5 415.6C672.3 414.5 673.4 412.3 674.4 411.2C675.3 410.2 676.3 409.6 677.3 409.3C678.3 408.9 679.2 408.8 680.2 409C681.2 409.1 682.1 409.8 683.1 410.2C684.2 410.7 685.4 411.6 686.5 411.7C687.6 411.8 688.7 411.7 689.9 410.7C691.1 409.8 692.5 408.3 693.8 405.9C695.1 403.4 696.4 399.7 697.7 396.2C699 392.6 700.3 387.9 701.6 384.5C702.9 381.1 704.2 378 705.5 375.8C706.7 373.6 708.1 372.3 709.3 371.4C710.6 370.5 711.6 370.3 712.7 370.4C713.9 370.5 714.9 370.8 716.1 371.9C717.4 372.9 718.7 374.6 720 376.7C721.3 378.8 722.6 381.8 723.9 384.5C725.2 387.3 726.5 390.3 727.8 393.2C729.1 396.2 730.5 399.7 731.7 402C732.8 404.3 733.6 405.8 734.6 406.8C735.6 407.9 736.5 408.2 737.5 408.3C738.5 408.4 739.3 407.7 740.4 407.3C741.6 407 743 406.3 744.3 406.4C745.6 406.4 747.1 407.1 748.2 407.8C749.3 408.5 750.1 410.2 751.1 410.7C752.1 411.3 752.9 411.5 754 411.2C755.2 410.9 756.6 409.6 757.9 408.8C759.2 408 760.7 406.8 761.8 406.4C762.9 406 763.7 406 764.7 406.4C765.7 406.8 766.6 407.9 767.6 408.8C768.6 409.7 769.6 411.1 770.5 411.7C771.5 412.3 772.6 412.5 773.4 412.2C774.3 411.9 775.1 411.3 775.9 409.8C776.7 408.2 777.4 405.4 778.3 403C779.2 400.5 780.2 397.1 781.2 395.2C782.2 393.2 783.2 392 784.1 391.3C785.1 390.6 786.1 390.7 787 390.8C788 391 789 391.7 790 392.3C790.9 392.8 791.9 393.8 792.9 394.2C793.8 394.6 794.7 394.9 795.8 394.7C796.9 394.5 798.4 394.3 799.7 393.2C801 392.2 802.3 390.7 803.6 388.4C804.9 386.1 806.1 382.9 807.4 379.7C808.7 376.4 810 372.2 811.3 369C812.6 365.7 814.1 362.7 815.2 360.2C816.3 357.8 817 355.6 818.1 354.4C819.3 353.2 820.7 352.9 822 352.9C823.3 352.9 824.6 353.8 825.9 354.4C827.2 355 828.7 356.3 829.8 356.3C830.9 356.3 831.7 355.7 832.7 354.4C833.7 353.1 834.6 350.7 835.6 348.6C836.6 346.5 837.6 343.7 838.5 341.8C839.5 339.8 840.3 338.1 841.4 336.9C842.5 335.7 843.9 335 845.1 334.5C846.4 333.9 847.7 334.3 849 333.5C850.3 332.7 851.5 330.8 852.8 329.6C854.1 328.4 855.4 326.9 856.6 326.4C857.8 325.9 859 325.9 860 326.7C861 327.5 861.5 328.9 862.4 331.1C863.3 333.3 864.5 337.6 865.3 339.8C866.2 342.1 867 343.8 867.8 344.7C868.5 345.6 869 345.8 869.7 345.2C870.4 344.5 871.2 343.1 872.1 340.8C873 338.4 874.2 333.8 875.1 331.1C875.9 328.3 876.7 325.7 877.5 324.3C878.3 322.8 879 322.3 879.9 322.3C880.8 322.3 881.9 322.5 882.8 324.3C883.8 326.1 884.8 329.3 885.7 333C886.7 336.7 887.7 342.1 888.7 346.6C889.7 351.2 890.8 356 891.7 360.2C892.7 364.4 893.5 368.6 894.5 371.9C895.4 375.1 896.4 377.7 897.4 379.7C898.4 381.6 899.3 383.2 900.3 383.7C901.3 384.2 902.3 383.7 903.2 382.6C904.2 381.4 905.2 379.2 906.1 376.7C907.1 374.3 908.2 371.1 909.1 368C909.9 364.9 910.6 361.7 911.4 358.3C912.2 354.9 913.2 350.3 913.9 347.6C914.7 344.8 915.2 342.9 915.9 341.8C916.5 340.6 917.1 340.4 917.8 340.6C918.5 340.8 919.4 341.2 920.2 342.7C921 344.2 921.8 346.9 922.7 349.5C923.5 352.1 924.6 356.1 925.6 358.3C926.5 360.5 927.5 361.9 928.5 362.7C929.4 363.4 930.3 363.4 931.4 362.9C932.5 362.5 933.8 361 935.3 359.7C936.7 358.5 938.7 356.4 940.1 355.4C941.6 354.3 942.7 353.8 944 353.4C945.3 353.1 946.6 353.1 947.9 353.2C949.2 353.4 950.5 353.9 951.8 354.4C953.1 354.9 954.4 355.9 955.7 356.3C957 356.8 958.3 357.3 959.6 357.3C960.9 357.3 962.2 357.3 963.4 356.3C964.7 355.4 966 352.9 967.3 351.5C968.6 350 970.1 348.4 971.2 347.6C972.4 346.8 973.2 346.5 974.1 346.6C975.1 346.8 975.9 347.3 977 348.6C978.2 349.9 979.8 353.1 980.9 354.4C982.1 355.7 982.9 356.5 983.8 356.3C984.8 356.2 985.8 354.7 986.8 353.4C987.7 352.1 988.7 349.5 989.7 348.6C990.6 347.6 991.7 347.4 992.6 347.6C993.5 347.8 994.2 347.9 995 349.5C995.8 351.2 996.6 353.9 997.4 357.3C998.3 360.7 999.1 365.9 999.9 369.9C1000.8 374 1001.4 378 1002.3 381.6C1003.2 385.2 1004.1 388.6 1005.2 391.3C1006.3 394.1 1007.6 396.2 1009.1 398.1C1010.6 400 1012.2 401.4 1014 403C1015.7 404.5 1017.8 405.8 1019.8 407.3C1021.7 408.9 1023.9 410.8 1025.6 412.2C1027.3 413.6 1029.4 415 1030.2 415.6" fill="none" stroke="#90278f" stroke-width="3.2" stroke-linejoin="round" stroke-linecap="round"/>
<path d="M659.9 417.8C661.2 417.6 664.7 416.8 667.6 416.6C670.5 416.3 674.9 416.3 677.3 416.1C679.7 415.8 680.5 415.5 682.1 415.1C683.8 414.7 685.4 413.9 687 413.6C688.6 413.4 690.4 413.6 691.9 413.6C693.3 413.7 694.6 414.6 695.7 414.1C696.9 413.6 697.7 412.3 698.7 410.7C699.6 409.2 700.6 406.8 701.6 404.9C702.5 403 703.5 400.8 704.5 399.1C705.5 397.4 706.3 395.8 707.4 394.7C708.5 393.7 710 392.9 711.3 392.8C712.6 392.6 713.7 392.9 715.2 393.7C716.6 394.5 718.4 396.2 720 397.6C721.6 399 723.3 400.5 724.9 402C726.5 403.4 728.1 405.1 729.7 406.4C731.4 407.7 733 408.7 734.6 409.8C736.2 410.8 737.8 411.9 739.4 412.7C741.1 413.4 743 414.1 744.3 414.1C745.6 414.1 746.1 413.4 747.2 412.7C748.4 411.9 749.8 410.5 751.1 409.8C752.4 409 753.7 408.4 755 408.3C756.3 408.2 757.6 408.9 758.9 409.3C760.2 409.7 761.5 410.4 762.8 410.7C764.1 411.1 765.4 411.2 766.6 411.2C767.9 411.2 769.1 411.1 770.5 410.7C772 410.3 773.9 409.7 775.4 408.8C776.8 407.9 778 406.8 779.3 405.4C780.6 403.9 781.9 402.1 783.2 400C784.5 398 785.8 395.5 787 393.2C788.3 391 789.6 388.6 790.9 386.4C792.2 384.3 793.5 382.2 794.8 380.6C796.1 379 797.4 377.7 798.7 376.7C800 375.8 801.3 375.4 802.6 374.8C803.9 374.2 805.3 374.1 806.5 373.3C807.6 372.6 808.4 372.1 809.4 370.4C810.4 368.7 811.4 366 812.3 363.1C813.2 360.3 813.8 356.7 814.5 353.4C815.3 350.2 816 346.9 816.7 343.7C817.4 340.5 818.2 337.1 818.9 334C819.6 330.9 820 327.8 821 325.3C822.1 322.7 823.6 320.4 824.9 318.5C826.2 316.5 827.5 315.4 828.8 313.6C830.1 311.8 831.2 310.2 832.7 307.8C834.2 305.4 836.6 301.7 837.9 299.1C839.2 296.5 839.6 294.4 840.5 292.3C841.3 290.2 842.2 288.1 843 286.4C843.9 284.8 844.6 283.5 845.6 282.6C846.6 281.6 848.1 280.9 849.2 280.8C850.2 280.7 851.1 281.1 852.1 282.1C853 283 854 284.9 855 286.4C856 288 856.9 289.8 857.9 291.3C858.9 292.8 859.7 294.1 860.8 295.2C862 296.3 863.4 297.1 864.7 298.1C866 299.1 867.5 300 868.6 301C869.7 302.1 870.5 303.1 871.5 304.4C872.5 305.7 873.4 307.1 874.4 308.8C875.4 310.5 876 311.7 877.3 314.6C878.7 317.5 881.2 323 882.5 326.2C883.7 329.5 884.1 331.8 885 334C885.8 336.2 886.7 338.1 887.5 339.3C888.3 340.6 889.2 341.2 890 341.3C890.9 341.4 891.6 340.5 892.5 339.8C893.4 339.2 894.5 337.9 895.5 337.4C896.4 336.9 897.4 336.4 898.4 336.7C899.3 337 900.1 337.9 901.3 339.3C902.4 340.7 904 343.5 905.2 345.2C906.3 346.8 906.9 348 908.1 349.1C909.2 350.1 910.7 350.8 912 351.5C913.3 352.2 914.7 352.5 915.9 353.4C917 354.3 917.6 355.2 918.8 356.8C919.9 358.4 921.4 361.1 922.7 363.1C923.9 365.2 925.2 367.5 926.5 369C927.8 370.4 929 371.2 930.4 371.9C931.9 372.5 933.7 372.5 935.3 372.9C936.9 373.2 938.7 373.3 940.1 373.8C941.6 374.4 942.7 375.1 944 376.3C945.3 377.4 946.6 379.2 947.9 380.6C949.2 382.1 950.7 384.1 951.8 385C952.9 385.9 953.7 386.3 954.7 386.3C955.7 386.2 956.5 385.5 957.6 384.5C958.8 383.5 960.4 381.1 961.5 380.1C962.6 379.1 963.4 378.6 964.4 378.5C965.4 378.4 966.2 378.6 967.3 379.7C968.5 380.7 970 383.4 971.2 384.5C972.4 385.6 973.5 386.4 974.6 386.4C975.8 386.5 977 385.6 978 385C979.1 384.4 979.9 383.5 980.9 383.1C982 382.6 983.2 382.2 984.3 382.6C985.5 383 986.4 384 987.7 385.5C989.1 386.9 990.8 389 992.6 391.3C994.4 393.6 996.5 396.6 998.4 399.1C1000.4 401.6 1002.3 404.3 1004.2 406.4C1006.2 408.5 1008.1 410.3 1010.1 411.7C1012 413.1 1013.8 413.9 1015.9 414.6C1018 415.3 1020.4 415.5 1022.7 416.1C1025 416.6 1028.7 417.6 1029.9 417.9" fill="none" stroke="#1aa3d8" stroke-width="3.2" stroke-linejoin="round" stroke-linecap="round"/>
<line x1="1141.3" y1="418.2" x2="1540.3" y2="418.2" stroke="#000" stroke-width="2.0"/>
<line x1="1157.3" y1="418.2" x2="1157.3" y2="434.2" stroke="#000" stroke-width="2.0"/>
<line x1="1184.6" y1="418.2" x2="1184.6" y2="427.7" stroke="#000" stroke-width="2.0"/>
<line x1="1211.9" y1="418.2" x2="1211.9" y2="434.2" stroke="#000" stroke-width="2.0"/>
<line x1="1239.2" y1="418.2" x2="1239.2" y2="427.7" stroke="#000" stroke-width="2.0"/>
<line x1="1266.4" y1="418.2" x2="1266.4" y2="434.2" stroke="#000" stroke-width="2.0"/>
<line x1="1293.7" y1="418.2" x2="1293.7" y2="427.7" stroke="#000" stroke-width="2.0"/>
<line x1="1321" y1="418.2" x2="1321" y2="434.2" stroke="#000" stroke-width="2.0"/>
<line x1="1348.3" y1="418.2" x2="1348.3" y2="427.7" stroke="#000" stroke-width="2.0"/>
<line x1="1375.6" y1="418.2" x2="1375.6" y2="434.2" stroke="#000" stroke-width="2.0"/>
<line x1="1402.9" y1="418.2" x2="1402.9" y2="427.7" stroke="#000" stroke-width="2.0"/>
<line x1="1430.2" y1="418.2" x2="1430.2" y2="434.2" stroke="#000" stroke-width="2.0"/>
<line x1="1457.4" y1="418.2" x2="1457.4" y2="427.7" stroke="#000" stroke-width="2.0"/>
<line x1="1484.7" y1="418.2" x2="1484.7" y2="434.2" stroke="#000" stroke-width="2.0"/>
<line x1="1512" y1="418.2" x2="1512" y2="427.7" stroke="#000" stroke-width="2.0"/>
<line x1="1539.3" y1="418.2" x2="1539.3" y2="434.2" stroke="#000" stroke-width="2.0"/>
<text x="1157.3" y="463.6" font-size="25.2" text-anchor="middle" fill="#000">–0.2</text>
<text x="1211.9" y="463.6" font-size="25.2" text-anchor="middle" fill="#000">0.0</text>
<text x="1266.4" y="463.6" font-size="25.2" text-anchor="middle" fill="#000">0.2</text>
<text x="1321" y="463.6" font-size="25.2" text-anchor="middle" fill="#000">0.4</text>
<text x="1375.6" y="463.6" font-size="25.2" text-anchor="middle" fill="#000">0.6</text>
<text x="1430.2" y="463.6" font-size="25.2" text-anchor="middle" fill="#000">0.8</text>
<text x="1484.7" y="463.6" font-size="25.2" text-anchor="middle" fill="#000">1.0</text>
<text x="1539.3" y="463.6" font-size="25.2" text-anchor="middle" fill="#000">1.2</text>
<text x="1348" y="503.2" font-size="25.4" text-anchor="middle">FRET efficiency (<tspan font-style="italic">f</tspan><tspan font-size="15.6" dy="3.4" dx="0.9">E</tspan><tspan dy="-3.4" dx="0.6">)</tspan></text>
<line x1="1157.3" y1="434.2" x2="1157.3" y2="165.2" stroke="#000" stroke-width="2.0"/>
<line x1="1147.8" y1="401.3" x2="1157.3" y2="401.3" stroke="#000" stroke-width="2.0"/>
<line x1="1147.8" y1="384.5" x2="1157.3" y2="384.5" stroke="#000" stroke-width="2.0"/>
<line x1="1141.3" y1="367.6" x2="1157.3" y2="367.6" stroke="#000" stroke-width="2.0"/>
<line x1="1147.8" y1="350.7" x2="1157.3" y2="350.7" stroke="#000" stroke-width="2.0"/>
<line x1="1147.8" y1="333.9" x2="1157.3" y2="333.9" stroke="#000" stroke-width="2.0"/>
<line x1="1141.3" y1="317" x2="1157.3" y2="317" stroke="#000" stroke-width="2.0"/>
<line x1="1147.8" y1="300.1" x2="1157.3" y2="300.1" stroke="#000" stroke-width="2.0"/>
<line x1="1147.8" y1="283.3" x2="1157.3" y2="283.3" stroke="#000" stroke-width="2.0"/>
<line x1="1141.3" y1="266.4" x2="1157.3" y2="266.4" stroke="#000" stroke-width="2.0"/>
<line x1="1147.8" y1="249.5" x2="1157.3" y2="249.5" stroke="#000" stroke-width="2.0"/>
<line x1="1147.8" y1="232.7" x2="1157.3" y2="232.7" stroke="#000" stroke-width="2.0"/>
<line x1="1141.3" y1="215.8" x2="1157.3" y2="215.8" stroke="#000" stroke-width="2.0"/>
<line x1="1147.8" y1="198.9" x2="1157.3" y2="198.9" stroke="#000" stroke-width="2.0"/>
<line x1="1147.8" y1="182.1" x2="1157.3" y2="182.1" stroke="#000" stroke-width="2.0"/>
<line x1="1141.3" y1="165.2" x2="1157.3" y2="165.2" stroke="#000" stroke-width="2.0"/>
<text x="1129.5" y="425.8" font-size="25.2" text-anchor="end" fill="#000">0</text>
<text x="1129.5" y="375.2" font-size="25.2" text-anchor="end" fill="#000">0.03</text>
<text x="1129.5" y="324.6" font-size="25.2" text-anchor="end" fill="#000">0.06</text>
<text x="1129.5" y="274" font-size="25.2" text-anchor="end" fill="#000">0.09</text>
<text x="1129.5" y="223.4" font-size="25.2" text-anchor="end" fill="#000">0.12</text>
<text x="1129.5" y="172.8" font-size="25.2" text-anchor="end" fill="#000">0.15</text>
<line x1="1157.3" y1="136.4" x2="1157.3" y2="82.6" stroke="#000" stroke-width="2.0"/>
<line x1="1141.3" y1="136.4" x2="1157.3" y2="136.4" stroke="#000" stroke-width="2.0"/>
<line x1="1147.8" y1="118.8" x2="1157.3" y2="118.8" stroke="#000" stroke-width="2.0"/>
<line x1="1147.8" y1="101.2" x2="1157.3" y2="101.2" stroke="#000" stroke-width="2.0"/>
<line x1="1141.3" y1="83.6" x2="1157.3" y2="83.6" stroke="#000" stroke-width="2.0"/>
<text x="1129.5" y="144" font-size="25.2" text-anchor="end" fill="#000">0.18</text>
<text x="1129.5" y="91.2" font-size="25.2" text-anchor="end" fill="#000">0.21</text>
<line x1="1142.2" y1="151.1" x2="1172.1" y2="121.6" stroke="#000" stroke-width="2.1"/>
<line x1="1142.2" y1="179.9" x2="1172.1" y2="150.3" stroke="#000" stroke-width="2.1"/>
<path d="M1162.3 418C1166 418 1178.9 418.2 1184.1 418C1189.4 417.9 1191.4 417.6 1193.9 417C1196.3 416.5 1197.1 415.8 1198.7 414.6C1200.3 413.4 1201.9 411.5 1203.6 409.8C1205.2 408.1 1206.8 406 1208.4 404.4C1210 402.8 1211.7 401 1213.3 400C1214.9 399.1 1216.7 398.7 1218.1 398.6C1219.6 398.5 1220.7 399.1 1222 399.6C1223.3 400 1224.6 401.1 1225.9 401.5C1227.2 401.9 1228.5 402.1 1229.8 402C1231.1 401.9 1232.4 401.2 1233.7 401C1235 400.9 1236.4 400.6 1237.6 401C1238.7 401.4 1239.3 402.6 1240.5 403.4C1241.6 404.3 1243.2 405.8 1244.4 406.4C1245.5 406.9 1246.3 407.1 1247.3 406.8C1248.2 406.6 1249.2 406 1250.2 404.9C1251.2 403.8 1252 401.5 1253.1 400C1254.2 398.6 1255.7 397 1257 396.2C1258.3 395.4 1259.7 394.9 1260.9 395.2C1262 395.5 1262.8 397 1263.8 398.1C1264.8 399.2 1265.7 401.1 1266.7 402C1267.8 402.9 1269 403.7 1270.1 403.7C1271.2 403.8 1272.3 403.3 1273.5 402.5C1274.7 401.7 1276.1 400.5 1277.4 399.1C1278.7 397.7 1279.8 395.8 1281.3 394.2C1282.7 392.6 1284.5 390.3 1286.1 389.4C1287.8 388.4 1289.5 388.4 1291 388.6C1292.4 388.8 1293.7 390.7 1294.9 390.5C1296 390.3 1296.7 389.2 1297.8 387.4C1298.9 385.6 1300.4 381.9 1301.7 379.7C1303 377.4 1304.1 375.8 1305.6 373.8C1307 371.9 1308.8 369.6 1310.4 368C1312 366.4 1313.7 365.4 1315.3 364.1C1316.9 362.8 1318.7 361.8 1320.1 360.2C1321.6 358.6 1322.7 356.7 1324 354.4C1325.3 352.1 1326.6 349.2 1327.9 346.6C1329.2 344 1330.5 341.6 1331.8 338.9C1333.1 336.1 1334.4 333.2 1335.7 330.1C1337 327 1338.3 323.6 1339.6 320.4C1340.9 317.2 1342.4 313.4 1343.4 310.7C1344.5 307.9 1345 307 1345.9 303.9C1346.8 300.9 1347.7 296.2 1348.7 292.3C1349.6 288.4 1350.6 284.3 1351.5 280.6C1352.5 276.9 1353.3 273 1354.2 269.9C1355.1 266.9 1356 264.4 1357 262.2C1357.9 259.9 1358.9 257.8 1359.9 256.3C1360.9 254.8 1361.9 253.8 1362.8 253.1C1363.7 252.5 1364.4 252.3 1365.2 252.3C1366.1 252.3 1366.8 252.5 1367.7 253.1C1368.6 253.8 1369.7 254.8 1370.6 256.3C1371.5 257.8 1372.2 259.7 1373 262.2C1373.8 264.6 1374.6 268 1375.4 270.9C1376.3 273.8 1377.1 276.9 1377.9 279.7C1378.7 282.4 1379.4 284.8 1380.3 287.4C1381.2 290 1382.1 292.6 1383.2 295.2C1384.4 297.8 1386.1 300.9 1387.1 303C1388.1 305.1 1387.9 305.5 1389 307.8C1390 310 1392 313.4 1393.5 316.5C1395 319.6 1396.7 323 1398.1 326.2C1399.4 329.5 1400.5 332.5 1401.6 335.9C1402.8 339.3 1404.1 343.5 1405.2 346.6C1406.3 349.7 1407.2 352.6 1408.1 354.4C1409.1 356.2 1409.9 356.7 1411.1 357.3C1412.2 357.9 1413.6 357.8 1414.9 358.1C1416.2 358.3 1417.7 358.1 1418.8 358.8C1420 359.4 1420.8 360.5 1421.7 362.2C1422.7 363.9 1423.7 366.7 1424.7 369C1425.6 371.2 1426.6 373.8 1427.6 375.8C1428.5 377.7 1429.3 379.1 1430.5 380.6C1431.6 382.2 1433.1 383.9 1434.4 385C1435.7 386.1 1437 386.7 1438.2 387.4C1439.5 388.1 1440.8 388.7 1442.1 389.4C1443.4 390 1444.9 391.1 1446 391.3C1447.2 391.5 1448 391.3 1448.9 390.8C1449.9 390.3 1450.9 389.2 1451.8 388.4C1452.8 387.6 1453.8 386.6 1454.8 386.3C1455.7 385.9 1456.7 385.8 1457.7 386.4C1458.6 387.1 1459.6 388.7 1460.6 390.3C1461.6 392 1462.5 394.4 1463.5 396.2C1464.5 397.9 1465.3 399.8 1466.4 401C1467.6 402.2 1469 403.1 1470.3 403.4C1471.6 403.8 1472.9 403.5 1474.2 403.2C1475.5 402.8 1476.8 402.2 1478.1 401.5C1479.4 400.8 1480.7 399.9 1482 399.1C1483.3 398.3 1484.5 397.4 1485.8 396.6C1487.1 395.9 1488.4 395.1 1489.7 394.7C1491 394.3 1492.5 394.2 1493.6 394.4C1494.7 394.7 1495.4 395.1 1496.5 396.2C1497.7 397.3 1499.1 399.2 1500.4 401C1501.7 402.8 1503 405.1 1504.3 406.8C1505.6 408.6 1506.9 410.4 1508.2 411.7C1509.5 413 1510.5 414 1512.1 414.6C1513.7 415.3 1515.8 415.2 1517.9 415.6C1520 416 1522.1 416.7 1524.7 417C1527.3 417.4 1532 417.8 1533.4 417.9" fill="none" stroke="#000" stroke-width="2.0" stroke-linejoin="round" stroke-linecap="round"/>
<path d="M1161.9 414.1C1162.2 413.4 1163 411.2 1163.7 409.8C1164.5 408.3 1165.6 406.4 1166.7 405.4C1167.7 404.4 1169 403.8 1170.1 403.7C1171.1 403.7 1172 403.9 1173 404.9C1173.9 405.9 1174.9 408.1 1175.9 409.8C1176.9 411.4 1178 413.6 1178.8 414.6C1179.6 415.7 1180.1 416.1 1180.7 416.1C1181.4 416.1 1182 416 1182.7 414.6C1183.4 413.2 1184.2 410.6 1185.1 407.8C1186 405.1 1187 401.5 1188 398.1C1189.1 394.7 1190.3 391.1 1191.4 387.4C1192.6 383.7 1193.9 379.8 1194.8 375.8C1195.7 371.7 1196.2 367.7 1196.9 363.1C1197.6 358.6 1198.3 353.4 1198.9 348.6C1199.5 343.7 1200 338.9 1200.5 334C1201 329.1 1201.4 323.8 1201.8 319.4C1202.2 315.1 1202.5 311 1202.7 307.8C1202.9 304.5 1203 304.1 1203.2 299.9C1203.4 295.8 1203.7 291.5 1204.1 282.9C1204.6 274.2 1205.3 259.7 1206 248C1206.6 236.4 1207.3 223.4 1207.8 213.2C1208.4 203 1208.9 195.1 1209.3 187.1C1209.8 179.1 1210.4 169 1210.6 165.3" fill="none" stroke="#de2a2b" stroke-width="3.2" stroke-linejoin="round" stroke-linecap="round"/>
<path d="M1214.6 135.7C1214.9 133.5 1215.8 126 1216.3 122.6C1216.7 119.2 1217 117 1217.4 115.3C1217.7 113.7 1218.1 112.7 1218.6 112.7C1219 112.7 1219.6 113.7 1220 115.3C1220.4 117 1220.5 119.2 1221 122.6C1221.4 126 1222.3 133.5 1222.6 135.7" fill="none" stroke="#de2a2b" stroke-width="3.2" stroke-linejoin="round" stroke-linecap="round"/>
<path d="M1225.3 165.3C1225.5 169 1226.1 179.1 1226.5 187.1C1227 195.1 1227.6 204.5 1228.2 213.2C1228.7 221.9 1229.3 230.6 1230 239.3C1230.6 248 1231.3 257.3 1232.1 265.5C1232.9 273.6 1233.7 280.7 1234.7 288.1C1235.7 295.5 1237.1 304 1238.1 309.7C1239 315.4 1239.4 318 1240.5 322.3C1241.5 326.7 1243.1 331.7 1244.4 335.9C1245.7 340.1 1247 343.9 1248.2 347.6C1249.5 351.3 1250.8 354.9 1252.1 358.3C1253.4 361.7 1254.9 365.6 1256 368C1257.2 370.4 1257.8 371.5 1258.9 372.9C1260.1 374.2 1261.4 375.2 1262.8 376.3C1264.3 377.3 1266.1 378.2 1267.7 379.2C1269.3 380.1 1270.9 381.1 1272.5 382.1C1274.2 383.1 1275.8 384.4 1277.4 385C1279 385.6 1280.8 385.3 1282.2 385.5C1283.7 385.6 1284.8 385.4 1286.1 386C1287.4 386.5 1288.7 387.8 1290 388.9C1291.3 389.9 1292.8 391.5 1293.9 392.3C1295 393 1295.8 393.3 1296.8 393.2C1297.8 393.2 1298.8 392.5 1299.7 392.1C1300.7 391.7 1301.8 390.9 1302.6 390.8C1303.5 390.7 1304.3 390.9 1305.1 391.5C1305.9 392.1 1306.6 393.4 1307.5 394.7C1308.4 396 1309.4 397.9 1310.4 399.1C1311.4 400.3 1312.4 401.7 1313.3 402C1314.3 402.3 1315.3 402 1316.2 401C1317.2 400 1318.2 397.8 1319.2 396.2C1320.1 394.5 1321.1 392.6 1322.1 391.3C1323 390 1323.9 389 1325 388.4C1326.1 387.8 1327.6 387.7 1328.9 387.9C1330.2 388.1 1331.5 389 1332.8 389.4C1334.1 389.8 1335.3 390.2 1336.6 390.3C1337.9 390.5 1339.2 390.1 1340.5 390.3C1341.8 390.6 1343 391.3 1344.4 391.8C1345.8 392.3 1347.7 393.6 1348.9 393.5C1350.1 393.5 1350.8 393 1351.8 391.7C1352.8 390.3 1353.7 387.7 1354.7 385.4C1355.7 383.1 1356.7 380 1357.6 377.7C1358.6 375.3 1359.7 372.7 1360.5 371.4C1361.4 370.1 1361.8 369.7 1362.5 369.7C1363.2 369.8 1364.1 370.4 1364.9 371.9C1365.7 373.4 1366.5 376.1 1367.3 378.7C1368.2 381.3 1369.3 385.1 1370.3 387.4C1371.2 389.8 1372.2 391.7 1373.2 392.8C1374.1 393.9 1375 394.2 1376.1 394C1377.1 393.9 1378.2 393 1379.5 391.8C1380.8 390.6 1382.5 388.2 1383.9 386.9C1385.2 385.6 1386.7 384.6 1387.7 384C1388.8 383.5 1389.3 383.2 1390.2 383.5C1391.1 383.9 1392 384.5 1393.1 386C1394.1 387.4 1395.3 390.1 1396.5 392.3C1397.6 394.5 1398.7 397.5 1399.9 399.1C1401 400.7 1402.1 401.4 1403.3 402C1404.5 402.6 1406 402.6 1407.2 402.8C1408.3 402.9 1408.9 402.7 1410.1 403C1411.2 403.2 1412.8 404.1 1414 404.4C1415.1 404.7 1415.9 405.1 1416.9 404.9C1417.9 404.7 1418.8 404.4 1419.8 403.4C1420.8 402.5 1421.6 400.5 1422.7 399.1C1423.8 397.6 1425.4 395.7 1426.6 394.7C1427.8 393.7 1428.9 393.2 1430 393.2C1431.1 393.3 1432.2 394.1 1433.4 395.2C1434.6 396.2 1435.8 398.3 1437.3 399.6C1438.7 400.9 1440.5 402.2 1442.1 403C1443.8 403.7 1445.4 403.8 1447 403.9C1448.6 404.1 1450.2 403.9 1451.8 403.7C1453.5 403.6 1455.1 403.4 1456.7 403.2C1458.3 402.9 1460.1 402.3 1461.6 402.5C1463 402.6 1464.2 403.2 1465.4 403.9C1466.7 404.7 1468 405.7 1469.3 406.8C1470.6 408 1471.9 409.8 1473.2 410.7C1474.5 411.7 1475.8 412.4 1477.1 412.7C1478.4 413 1479.7 412.9 1481 412.7C1482.3 412.4 1483.6 411.8 1484.9 411.2C1486.2 410.7 1487.5 409.8 1488.8 409.3C1490.1 408.7 1491.3 407.9 1492.6 407.8C1493.9 407.7 1495.2 408 1496.5 408.8C1497.8 409.6 1499.1 411.5 1500.4 412.7C1501.7 413.8 1502.8 415 1504.3 415.6C1505.8 416.2 1507.7 416.2 1509.2 416.1C1510.6 415.9 1511.9 415 1513 414.6C1514.2 414.2 1514.8 413.5 1516 413.6C1517.1 413.8 1518.6 415 1519.8 415.6C1521.1 416.2 1522.7 417 1523.3 417.3" fill="none" stroke="#de2a2b" stroke-width="3.2" stroke-linejoin="round" stroke-linecap="round"/>
<path d="M1162.9 416.3C1163.2 416.3 1163.6 416.4 1164.7 416.6C1165.8 416.7 1168 417.2 1169.6 417C1171.2 416.9 1172.8 416.2 1174.4 415.6C1176 414.9 1177.7 413.8 1179.3 413.2C1180.9 412.5 1182.7 412 1184.1 411.7C1185.6 411.4 1186.7 411.1 1188 411.2C1189.3 411.3 1190.6 411.9 1191.9 412.2C1193.2 412.4 1194.7 412.9 1195.8 412.7C1196.9 412.4 1197.8 412 1198.7 410.7C1199.6 409.4 1200.4 407.8 1201.1 404.9C1201.9 402 1202.5 398.1 1203.3 393.2C1204.2 388.4 1205.4 381.6 1206.5 375.8C1207.5 369.9 1208.5 363.9 1209.5 358.3C1210.6 352.6 1211.7 346.5 1212.7 341.8C1213.6 337.1 1214.4 333 1215.2 330.1C1216 327.2 1217 325.4 1217.7 324.3C1218.3 323.2 1218.5 323.1 1219.1 323.3C1219.7 323.6 1220.3 324 1221.1 325.7C1221.8 327.5 1222.7 331 1223.5 334C1224.3 337 1225.2 340.6 1226 343.7C1226.8 346.8 1227.5 350.3 1228.3 352.5C1229.1 354.6 1229.9 355.4 1230.8 356.3C1231.7 357.2 1232.7 357.5 1233.7 357.8C1234.7 358.1 1235.7 357.7 1236.6 358.3C1237.5 358.8 1238.2 359.3 1239 361.2C1239.8 363.1 1240.5 366.5 1241.3 369.9C1242.2 373.3 1243.4 378 1244.4 381.6C1245.4 385.2 1246.3 388.9 1247.3 391.3C1248.2 393.7 1249.2 395.2 1250.2 396.2C1251.2 397.1 1252.1 397.3 1253.1 397.1C1254.1 397 1254.9 396.3 1256 395.2C1257.2 394.1 1258.6 391.8 1259.9 390.3C1261.2 388.9 1262.7 387.3 1263.8 386.4C1264.9 385.6 1265.7 385.4 1266.7 385.5C1267.7 385.6 1268.5 386 1269.6 386.9C1270.8 387.9 1272.2 389.9 1273.5 391.3C1274.8 392.7 1276.1 394.6 1277.4 395.2C1278.7 395.8 1280 394.9 1281.3 394.7C1282.6 394.5 1283.9 394.1 1285.2 394.2C1286.5 394.4 1287.9 395.3 1289 395.7C1290.2 396.1 1291 396.6 1292 396.6C1292.9 396.6 1294 396.4 1294.9 395.7C1295.8 394.9 1296.5 394.1 1297.3 392.3C1298.1 390.4 1298.8 387.1 1299.7 384.5C1300.6 381.9 1301.8 378.4 1302.6 376.7C1303.5 375.1 1304.3 374.6 1305.1 374.8C1305.9 375 1306.6 376.4 1307.5 377.7C1308.4 379 1309.4 381.4 1310.4 382.6C1311.4 383.7 1312.4 384.5 1313.3 384.5C1314.2 384.5 1315 384.3 1315.8 382.6C1316.5 380.8 1317.1 377.1 1317.8 373.8C1318.5 370.6 1319.2 367 1319.9 363.1C1320.7 359.3 1321.4 353.7 1322.1 350.5C1322.7 347.3 1323.4 345.4 1324 343.7C1324.7 342 1325 341.1 1326 340.3C1326.9 339.5 1328.5 338.8 1329.8 338.9C1331.1 338.9 1332.4 340.1 1333.7 340.8C1335 341.4 1336.3 342.5 1337.6 342.7C1338.9 343 1340.4 342.9 1341.5 342.3C1342.6 341.6 1343.1 340.9 1344.4 338.9C1345.8 336.8 1348.4 332.3 1349.7 330.1C1351 327.9 1351.4 326.5 1352.1 325.7C1352.9 325 1353.5 324.9 1354.1 325.4C1354.8 326 1355.4 327.4 1356.1 329.1C1356.9 330.9 1357.7 333.8 1358.6 335.9C1359.5 338 1360.6 340.6 1361.5 341.8C1362.4 343 1363.1 343.4 1363.9 343.2C1364.8 343.1 1365.8 342.5 1366.9 340.8C1367.9 339.1 1369.1 336.1 1370.3 333C1371.4 329.9 1372.6 325.7 1373.7 322.3C1374.7 318.9 1375.7 315.1 1376.6 312.6C1377.5 310.1 1378.2 308.5 1379 307.3C1379.8 306.1 1380.6 305.4 1381.4 305.6C1382.2 305.9 1383 306.9 1383.9 308.7C1384.7 310.6 1385.8 313.3 1386.8 316.5C1387.7 319.8 1388.6 324.1 1389.6 328.2C1390.6 332.2 1391.7 336.7 1392.7 340.8C1393.7 344.8 1394.6 349.2 1395.5 352.5C1396.5 355.7 1397.5 358.6 1398.4 360.2C1399.4 361.9 1400.5 362.2 1401.3 362.4C1402.1 362.5 1402.6 362.1 1403.3 361.2C1404 360.3 1404.9 358 1405.7 356.8C1406.5 355.6 1407.4 354.4 1408.1 353.9C1408.9 353.4 1409.4 353.1 1410.1 353.6C1410.8 354.2 1411.7 355.2 1412.5 357.3C1413.3 359.4 1414 363 1414.8 366.1C1415.7 369.1 1416.5 373 1417.4 375.8C1418.2 378.5 1418.9 380.8 1419.8 382.6C1420.7 384.3 1421.7 385.6 1422.7 386.4C1423.7 387.3 1424.5 387.5 1425.6 387.4C1426.8 387.3 1428.2 386.8 1429.5 386C1430.8 385.2 1431.9 383.8 1433.4 382.6C1434.8 381.4 1436.8 379.6 1438.2 378.7C1439.7 377.7 1440.8 377.3 1442.1 376.9C1443.4 376.6 1444.7 376.5 1446 376.7C1447.3 376.9 1448.6 377.4 1449.9 378.2C1451.2 379 1452.5 380.7 1453.8 381.6C1455.1 382.5 1456.5 383.4 1457.7 383.5C1458.8 383.7 1459.5 383.3 1460.6 382.6C1461.6 381.8 1462.9 380 1464 379.2C1465.1 378.4 1466.3 377.7 1467.4 377.7C1468.5 377.7 1469.7 378.3 1470.8 379.2C1471.9 380.1 1473 381.9 1474.2 383.1C1475.4 384.2 1476.8 385.2 1478.1 386C1479.4 386.7 1480.7 386.9 1482 387.4C1483.3 388 1484.7 388.5 1485.8 389.4C1487 390.3 1487.8 391.3 1488.8 392.8C1489.7 394.2 1490.7 396.4 1491.7 398.1C1492.6 399.8 1493.5 401.7 1494.6 403C1495.7 404.2 1497.2 404.9 1498.5 405.4C1499.8 405.9 1501.1 406 1502.4 405.9C1503.7 405.8 1504.9 405.3 1506.2 404.9C1507.5 404.5 1508.9 403.8 1510.1 403.4C1511.3 403.1 1512.4 402.8 1513.5 403C1514.7 403.1 1515.7 403.4 1516.9 404.4C1518.1 405.4 1519.5 407.3 1520.8 408.8C1522.1 410.2 1523.2 412 1524.7 413.2C1526.2 414.3 1528.2 415.1 1529.6 415.6C1530.9 416.1 1532.3 416.1 1532.8 416.2" fill="none" stroke="#90278f" stroke-width="3.2" stroke-linejoin="round" stroke-linecap="round"/>
<path d="M1162.7 413.5C1163 413.7 1163.7 414.2 1164.7 414.6C1165.7 415.1 1167.3 415.8 1168.6 416.1C1169.9 416.4 1171.2 416.6 1172.5 416.6C1173.8 416.5 1175.1 416.2 1176.4 415.6C1177.7 414.9 1179 414.1 1180.3 412.7C1181.6 411.2 1182.8 408.7 1184.1 406.8C1185.4 405 1186.8 402.7 1188 401.5C1189.2 400.3 1190.3 399.8 1191.4 399.6C1192.6 399.3 1193.8 400 1194.8 400C1195.9 400 1196.8 400.2 1197.7 399.6C1198.7 398.9 1199.7 398.2 1200.7 396.2C1201.6 394.1 1202.6 390.7 1203.6 387.4C1204.5 384.2 1205.5 380 1206.5 376.7C1207.5 373.5 1208.4 370.3 1209.4 368C1210.4 365.6 1211.3 363.8 1212.3 362.7C1213.3 361.5 1214.3 361.1 1215.2 361.2C1216.2 361.3 1217.2 361.7 1218.1 363.1C1219.1 364.6 1220.1 367.3 1221.1 369.9C1222 372.5 1223 375.8 1224 378.7C1224.9 381.6 1225.9 385 1226.9 387.4C1227.9 389.8 1228.7 392 1229.8 393.2C1230.9 394.5 1232.4 394.9 1233.7 395.2C1235 395.4 1236.3 395 1237.6 394.7C1238.9 394.4 1240.2 393.5 1241.4 393.2C1242.7 393 1244 392.7 1245.3 393.1C1246.6 393.5 1247.9 394.5 1249.2 395.7C1250.5 396.8 1251.8 398.9 1253.1 400C1254.4 401.2 1255.9 402.3 1257 402.5C1258.1 402.6 1258.9 401.9 1259.9 401C1260.9 400.1 1261.7 398.4 1262.8 397.1C1264 395.8 1265.6 393.7 1266.7 393.2C1267.8 392.8 1268.5 393.6 1269.6 394.2C1270.8 394.9 1272.4 396.6 1273.5 397.1C1274.6 397.7 1275.4 397.9 1276.4 397.6C1277.4 397.3 1278.2 396.6 1279.3 395.2C1280.5 393.8 1281.9 391.1 1283.2 389.4C1284.5 387.6 1285.8 385.8 1287.1 384.5C1288.4 383.2 1289.7 382.6 1291 381.6C1292.3 380.6 1293.6 380 1294.9 378.7C1296.2 377.4 1297.5 375.6 1298.8 373.8C1300.1 372 1301.3 369.9 1302.6 368C1303.9 366.1 1305.2 364.1 1306.5 362.2C1307.8 360.2 1309.1 358 1310.4 356.3C1311.7 354.6 1313 353.1 1314.3 352C1315.6 350.8 1316.9 350.3 1318.2 349.5C1319.5 348.8 1320.8 348.7 1322.1 347.6C1323.4 346.5 1324.7 345 1326 342.7C1327.3 340.5 1328.5 337.6 1329.8 334C1331.1 330.4 1332.6 325.3 1333.7 321.4C1334.9 317.5 1335.7 313.9 1336.6 310.7C1337.5 307.5 1338.2 304.6 1338.9 302C1339.6 299.4 1340.1 296.8 1340.7 295.2C1341.3 293.6 1341.9 293 1342.6 292.5C1343.3 291.9 1344.2 291.8 1344.9 292C1345.7 292.2 1346.4 292.9 1347.3 293.7C1348.2 294.6 1349.2 296.2 1350.2 297.1C1351.2 298 1352.1 299 1353.1 299.1C1354.1 299.2 1355 298.4 1356 297.6C1357 296.8 1357.9 295.2 1358.9 294.2C1360 293.2 1361.4 291.7 1362.3 291.5C1363.3 291.3 1363.9 292 1364.8 293.2C1365.7 294.5 1366.7 297.2 1367.7 299.1C1368.6 300.9 1369.6 303.3 1370.6 304.4C1371.6 305.5 1372.5 305.6 1373.5 305.7C1374.5 305.8 1375.4 305.2 1376.4 305.1C1377.4 305 1378.4 304.6 1379.3 304.9C1380.3 305.2 1381.4 305.6 1382.2 306.8C1383.1 308.1 1383.8 310.6 1384.7 312.7C1385.5 314.8 1386.4 316.7 1387.3 319.4C1388.2 322.2 1389.1 326.2 1390.1 329.1C1391 332.1 1391.8 334.5 1392.8 336.9C1393.9 339.3 1395.4 341.4 1396.6 343.7C1397.9 346 1399.1 348.1 1400.4 350.5C1401.6 352.9 1403 356 1404.3 358.3C1405.5 360.5 1406.8 362.5 1408.1 364.1C1409.4 365.7 1410.7 367 1412 368C1413.3 369 1414.6 369.3 1415.9 369.9C1417.2 370.6 1418.3 370.8 1419.8 371.9C1421.3 372.9 1423 374.6 1424.7 376.3C1426.3 377.9 1427.9 379.9 1429.5 381.6C1431.1 383.3 1432.7 385.1 1434.4 386.4C1436 387.8 1437.6 388.9 1439.2 389.8C1440.8 390.8 1442.5 391.5 1444.1 392.3C1445.7 393.1 1447.3 393.8 1448.9 394.7C1450.6 395.6 1452.2 396.4 1453.8 397.6C1455.4 398.8 1457.2 400.6 1458.6 402C1460.1 403.4 1461.3 405.1 1462.5 405.9C1463.7 406.7 1464.8 407 1465.9 406.8C1467.1 406.7 1468.1 406 1469.3 404.9C1470.5 403.8 1472 401.2 1473.2 400C1474.4 398.9 1475.5 397.9 1476.6 398.1C1477.8 398.3 1478.8 399.6 1480 401C1481.2 402.4 1482.6 405.1 1483.9 406.4C1485.2 407.6 1486.5 408.2 1487.8 408.3C1489.1 408.4 1490.2 407.4 1491.7 406.8C1493.1 406.3 1495.1 405.2 1496.5 404.9C1498 404.6 1499.1 404.7 1500.4 404.9C1501.7 405.1 1502.8 405.4 1504.3 406.4C1505.8 407.3 1507.5 409.4 1509.2 410.7C1510.8 412.1 1512.2 413.7 1514 414.6C1515.8 415.6 1517.7 416.1 1519.8 416.4C1521.9 416.6 1524.3 416.1 1526.6 416.1C1529 416 1532.6 416.1 1533.8 416.1" fill="none" stroke="#1aa3d8" stroke-width="3.2" stroke-linejoin="round" stroke-linecap="round"/>
<line x1="1644.8" y1="418.2" x2="2043.8" y2="418.2" stroke="#000" stroke-width="2.0"/>
<line x1="1660.8" y1="418.2" x2="1660.8" y2="434.2" stroke="#000" stroke-width="2.0"/>
<line x1="1688.1" y1="418.2" x2="1688.1" y2="427.7" stroke="#000" stroke-width="2.0"/>
<line x1="1715.4" y1="418.2" x2="1715.4" y2="434.2" stroke="#000" stroke-width="2.0"/>
<line x1="1742.7" y1="418.2" x2="1742.7" y2="427.7" stroke="#000" stroke-width="2.0"/>
<line x1="1769.9" y1="418.2" x2="1769.9" y2="434.2" stroke="#000" stroke-width="2.0"/>
<line x1="1797.2" y1="418.2" x2="1797.2" y2="427.7" stroke="#000" stroke-width="2.0"/>
<line x1="1824.5" y1="418.2" x2="1824.5" y2="434.2" stroke="#000" stroke-width="2.0"/>
<line x1="1851.8" y1="418.2" x2="1851.8" y2="427.7" stroke="#000" stroke-width="2.0"/>
<line x1="1879.1" y1="418.2" x2="1879.1" y2="434.2" stroke="#000" stroke-width="2.0"/>
<line x1="1906.4" y1="418.2" x2="1906.4" y2="427.7" stroke="#000" stroke-width="2.0"/>
<line x1="1933.7" y1="418.2" x2="1933.7" y2="434.2" stroke="#000" stroke-width="2.0"/>
<line x1="1960.9" y1="418.2" x2="1960.9" y2="427.7" stroke="#000" stroke-width="2.0"/>
<line x1="1988.2" y1="418.2" x2="1988.2" y2="434.2" stroke="#000" stroke-width="2.0"/>
<line x1="2015.5" y1="418.2" x2="2015.5" y2="427.7" stroke="#000" stroke-width="2.0"/>
<line x1="2042.8" y1="418.2" x2="2042.8" y2="434.2" stroke="#000" stroke-width="2.0"/>
<text x="1660.8" y="463.6" font-size="25.2" text-anchor="middle" fill="#000">–0.2</text>
<text x="1715.4" y="463.6" font-size="25.2" text-anchor="middle" fill="#000">0.0</text>
<text x="1769.9" y="463.6" font-size="25.2" text-anchor="middle" fill="#000">0.2</text>
<text x="1824.5" y="463.6" font-size="25.2" text-anchor="middle" fill="#000">0.4</text>
<text x="1879.1" y="463.6" font-size="25.2" text-anchor="middle" fill="#000">0.6</text>
<text x="1933.7" y="463.6" font-size="25.2" text-anchor="middle" fill="#000">0.8</text>
<text x="1988.2" y="463.6" font-size="25.2" text-anchor="middle" fill="#000">1.0</text>
<text x="2042.8" y="463.6" font-size="25.2" text-anchor="middle" fill="#000">1.2</text>
<text x="1851.5" y="503.2" font-size="25.4" text-anchor="middle">FRET efficiency (<tspan font-style="italic">f</tspan><tspan font-size="15.6" dy="3.4" dx="0.9">E</tspan><tspan dy="-3.4" dx="0.6">)</tspan></text>
<line x1="1660.8" y1="434.2" x2="1660.8" y2="165.2" stroke="#000" stroke-width="2.0"/>
<line x1="1651.3" y1="401.3" x2="1660.8" y2="401.3" stroke="#000" stroke-width="2.0"/>
<line x1="1651.3" y1="384.5" x2="1660.8" y2="384.5" stroke="#000" stroke-width="2.0"/>
<line x1="1644.8" y1="367.6" x2="1660.8" y2="367.6" stroke="#000" stroke-width="2.0"/>
<line x1="1651.3" y1="350.7" x2="1660.8" y2="350.7" stroke="#000" stroke-width="2.0"/>
<line x1="1651.3" y1="333.9" x2="1660.8" y2="333.9" stroke="#000" stroke-width="2.0"/>
<line x1="1644.8" y1="317" x2="1660.8" y2="317" stroke="#000" stroke-width="2.0"/>
<line x1="1651.3" y1="300.1" x2="1660.8" y2="300.1" stroke="#000" stroke-width="2.0"/>
<line x1="1651.3" y1="283.3" x2="1660.8" y2="283.3" stroke="#000" stroke-width="2.0"/>
<line x1="1644.8" y1="266.4" x2="1660.8" y2="266.4" stroke="#000" stroke-width="2.0"/>
<line x1="1651.3" y1="249.5" x2="1660.8" y2="249.5" stroke="#000" stroke-width="2.0"/>
<line x1="1651.3" y1="232.7" x2="1660.8" y2="232.7" stroke="#000" stroke-width="2.0"/>
<line x1="1644.8" y1="215.8" x2="1660.8" y2="215.8" stroke="#000" stroke-width="2.0"/>
<line x1="1651.3" y1="198.9" x2="1660.8" y2="198.9" stroke="#000" stroke-width="2.0"/>
<line x1="1651.3" y1="182.1" x2="1660.8" y2="182.1" stroke="#000" stroke-width="2.0"/>
<line x1="1644.8" y1="165.2" x2="1660.8" y2="165.2" stroke="#000" stroke-width="2.0"/>
<text x="1633" y="425.8" font-size="25.2" text-anchor="end" fill="#000">0</text>
<text x="1633" y="375.2" font-size="25.2" text-anchor="end" fill="#000">0.03</text>
<text x="1633" y="324.6" font-size="25.2" text-anchor="end" fill="#000">0.06</text>
<text x="1633" y="274" font-size="25.2" text-anchor="end" fill="#000">0.09</text>
<text x="1633" y="223.4" font-size="25.2" text-anchor="end" fill="#000">0.12</text>
<text x="1633" y="172.8" font-size="25.2" text-anchor="end" fill="#000">0.15</text>
<line x1="1660.8" y1="136.4" x2="1660.8" y2="82.6" stroke="#000" stroke-width="2.0"/>
<line x1="1644.8" y1="136.4" x2="1660.8" y2="136.4" stroke="#000" stroke-width="2.0"/>
<line x1="1651.3" y1="118.8" x2="1660.8" y2="118.8" stroke="#000" stroke-width="2.0"/>
<line x1="1651.3" y1="101.2" x2="1660.8" y2="101.2" stroke="#000" stroke-width="2.0"/>
<line x1="1644.8" y1="83.6" x2="1660.8" y2="83.6" stroke="#000" stroke-width="2.0"/>
<text x="1633" y="144" font-size="25.2" text-anchor="end" fill="#000">0.18</text>
<text x="1633" y="91.2" font-size="25.2" text-anchor="end" fill="#000">0.21</text>
<line x1="1645.7" y1="151.1" x2="1675.6" y2="121.6" stroke="#000" stroke-width="2.1"/>
<line x1="1645.7" y1="179.9" x2="1675.6" y2="150.3" stroke="#000" stroke-width="2.1"/>
<path d="M1665.3 418.3C1669.1 418.3 1682.7 418.5 1688.1 418C1693.6 417.6 1695.4 416.4 1697.9 415.6C1700.3 414.8 1701.1 413.6 1702.7 413.2C1704.3 412.8 1705.9 413.1 1707.6 413.2C1709.2 413.2 1711 413.7 1712.4 413.5C1713.9 413.2 1715 412.5 1716.3 411.7C1717.6 410.9 1718.9 409.5 1720.2 408.8C1721.5 408.1 1722.9 407.5 1724.1 407.3C1725.2 407.2 1725.5 407.3 1727 407.8C1728.5 408.4 1730.9 409.9 1732.8 410.7C1734.8 411.5 1737 412.2 1738.7 412.7C1740.3 413.2 1741.2 413.5 1742.5 413.6C1743.8 413.8 1745 413.7 1746.4 413.5C1747.9 413.2 1748.8 412.5 1751.3 412.2C1753.7 411.9 1757.8 411.6 1761 411.7C1764.2 411.8 1767.5 412.8 1770.7 412.7C1773.9 412.5 1777.3 411.4 1780.4 410.7C1783.5 410.1 1787.1 409.4 1789.2 408.8C1791.3 408.1 1791.8 407.3 1793 406.8C1794.3 406.4 1795.8 406 1796.9 405.9C1798.1 405.8 1798.5 405.9 1799.8 406.4C1801.1 406.8 1803.2 408.1 1804.7 408.8C1806.2 409.5 1807.3 410.4 1808.6 410.7C1809.9 411.1 1810.7 411.1 1812.5 410.7C1814.3 410.4 1817 409.4 1819.3 408.8C1821.5 408.1 1824 407.4 1826.1 406.8C1828.2 406.3 1830.1 405.8 1831.9 405.4C1833.7 405 1835.1 404.7 1836.8 404.4C1838.4 404.2 1839.8 404.1 1841.6 403.9C1843.4 403.7 1845.4 403.4 1847.4 403.2C1849.5 402.9 1852 402.5 1853.9 402.2C1855.7 402 1857.1 401.9 1858.7 401.7C1860.3 401.4 1862 401.1 1863.6 400.6C1865.2 400.2 1866.8 399.6 1868.4 399.1C1870 398.6 1871.7 398.1 1873.3 397.6C1874.9 397.1 1876.7 396.9 1878.1 396.2C1879.6 395.4 1880.7 394.5 1882 393.2C1883.3 392 1884.6 390.2 1885.9 388.4C1887.2 386.6 1888.3 384.3 1889.8 382.6C1891.3 380.8 1893 379.2 1894.7 377.7C1896.3 376.3 1898.1 375.1 1899.5 373.8C1901 372.5 1902.3 371.7 1903.4 369.9C1904.5 368.2 1905.3 365.9 1906.3 363.1C1907.3 360.4 1908.3 356.8 1909.2 353.4C1910.1 350 1910.8 346.3 1911.6 342.7C1912.5 339.2 1913.3 335.3 1914.1 332.1C1914.8 328.8 1915.3 326.6 1916 323.3C1916.8 320.1 1917.7 316.2 1918.5 312.6C1919.3 309.1 1919.9 306.3 1921 302C1922.2 297.7 1924.1 291.8 1925.5 286.8C1926.8 281.9 1927.9 277.1 1929 272.3C1930.1 267.4 1931 263.1 1932 257.7C1932.9 252.4 1933.9 245.9 1934.8 240.2C1935.6 234.6 1936.4 228.6 1937.1 223.7C1937.8 218.9 1938.3 215.1 1938.9 211.1C1939.6 207 1940.2 202.2 1940.8 199.4C1941.4 196.6 1942.1 195.4 1942.7 194.3C1943.4 193.2 1943.9 192.9 1944.7 192.9C1945.4 193 1946.2 193.3 1947.1 194.6C1948 195.8 1949 198.6 1950 200.4C1951 202.2 1952 204 1952.9 205.3C1953.9 206.6 1954.9 207.2 1955.8 208.2C1956.8 209.1 1957.9 209.8 1958.8 211.1C1959.7 212.4 1960.5 213.8 1961.2 215.9C1961.9 218 1962.3 220.8 1963 223.7C1963.6 226.6 1964.3 230 1965 233.4C1965.7 236.8 1966.3 240.5 1967 244.1C1967.7 247.7 1968.3 250.9 1969 254.8C1969.8 258.7 1970.7 263.4 1971.5 267.4C1972.2 271.5 1973 275.4 1973.7 279.1C1974.4 282.8 1975 286 1975.7 289.8C1976.4 293.6 1977.2 297.8 1977.9 301.9C1978.6 306.1 1979.3 310 1980.1 314.6C1980.9 319.1 1981.8 324.3 1982.7 329.1C1983.6 334 1984.6 338.9 1985.7 343.7C1986.7 348.6 1988.1 354.1 1989.1 358.3C1990.1 362.5 1991 366.2 1991.8 369C1992.6 371.7 1993.1 372.9 1993.7 374.8C1994.4 376.7 1994.9 378.2 1995.7 380.6C1996.5 383.1 1997.5 386.8 1998.6 389.4C1999.7 392 2001.2 394.4 2002.5 396.2C2003.8 397.9 2005.1 398.8 2006.4 400C2007.7 401.3 2008.8 402.6 2010.2 403.9C2011.7 405.2 2013.2 406.4 2015.1 407.8C2017 409.3 2019.5 411.4 2021.9 412.7C2024.3 414 2027.1 414.8 2029.7 415.6C2032.3 416.4 2036.1 417 2037.4 417.3" fill="none" stroke="#000" stroke-width="2.0" stroke-linejoin="round" stroke-linecap="round"/>
<path d="M1665.9 416.9C1666.4 417 1667 417.3 1668.7 417.5C1670.5 417.7 1674.2 418.1 1676.5 418C1678.8 417.9 1680.7 417.6 1682.3 417C1683.9 416.5 1684.9 415.5 1686.2 414.6C1687.5 413.7 1688.8 412.4 1690.1 411.7C1691.4 411 1692.7 410.4 1694 410.2C1695.3 410.1 1696.6 410.8 1697.9 410.5C1699.1 410.3 1700.6 410.1 1701.7 408.8C1702.9 407.5 1703.7 405.4 1704.7 403C1705.6 400.5 1706.6 397 1707.6 394.2C1708.5 391.5 1709.5 388.4 1710.5 386.4C1711.5 384.5 1712.3 383.4 1713.4 382.6C1714.4 381.8 1715.7 381.5 1716.8 381.6C1717.9 381.7 1719.1 382.1 1720.2 383.1C1721.2 384 1722 385.2 1723.1 387.4C1724.2 389.6 1725.9 393.7 1727 396.2C1728.1 398.6 1729 400.8 1729.9 402C1730.8 403.2 1731.5 403.6 1732.3 403.4C1733.1 403.3 1733.9 402.4 1734.8 401C1735.7 399.6 1736.7 396.7 1737.7 395.2C1738.7 393.7 1739.8 392.4 1740.6 391.8C1741.4 391.2 1741.8 391.2 1742.5 391.8C1743.3 392.4 1744.1 393.5 1745 395.2C1745.9 396.9 1747 400.1 1747.9 402C1748.8 403.9 1749.6 405.6 1750.3 406.4C1751 407.2 1751.5 407.6 1752.2 406.8C1753 406.1 1753.9 404.3 1754.7 402C1755.5 399.7 1756.2 396 1757.1 393.2C1758 390.5 1759 387.3 1760 385.5C1761 383.7 1762 382.9 1762.9 382.6C1763.9 382.2 1764.7 382.4 1765.8 383.5C1767 384.7 1768.4 387.3 1769.7 389.4C1771 391.4 1772.3 394.4 1773.6 395.7C1774.9 397 1776.4 397.4 1777.5 397.1C1778.6 396.9 1779.4 396.2 1780.4 394.2C1781.4 392.3 1782.4 388.6 1783.3 385.5C1784.3 382.4 1785.3 378.4 1786.2 375.8C1787.2 373.1 1788 370.9 1789.2 369.5C1790.3 368 1791.8 367.2 1793 367C1794.3 366.9 1795.6 367.5 1796.9 368.5C1798.2 369.5 1799.5 371.4 1800.8 372.9C1802.1 374.3 1803.6 376.5 1804.7 377.2C1805.8 378 1806.7 378 1807.6 377.2C1808.5 376.5 1809.2 375.4 1810 372.9C1810.9 370.3 1811.7 365.7 1812.5 362.2C1813.3 358.6 1814.1 354.2 1814.9 351.5C1815.7 348.8 1816.5 346.6 1817.3 346.1C1818.1 345.7 1819 346.4 1819.8 348.6C1820.5 350.8 1821.2 355.2 1822 359.3C1822.8 363.3 1823.9 369 1824.7 372.9C1825.4 376.7 1825.9 380.6 1826.6 382.6C1827.2 384.5 1827.8 385.3 1828.5 384.5C1829.2 383.7 1830.1 381.3 1830.9 377.7C1831.8 374.1 1832.7 367.5 1833.6 363.1C1834.4 358.8 1835 354 1835.8 351.5C1836.6 349 1837.4 348.1 1838.2 348.1C1839 348.1 1839.8 349.3 1840.6 351.5C1841.5 353.7 1842.6 358.3 1843.6 361.2C1844.5 364.1 1845.6 367.8 1846.5 369C1847.4 370.2 1848 369.2 1848.9 368.5C1849.8 367.8 1850.9 366.5 1851.9 364.9C1852.9 363.2 1853.9 360 1854.8 358.6C1855.7 357.3 1856.4 356.5 1857.3 356.7C1858.1 356.9 1859.1 358.5 1860.2 359.7C1861.2 360.9 1862.5 363.2 1863.6 364.1C1864.6 365 1865.5 365.6 1866.5 365.1C1867.5 364.6 1868.3 363 1869.4 361.2C1870.5 359.4 1871.7 355.9 1872.8 354.4C1873.9 352.9 1875.1 352 1876.2 352C1877.2 351.9 1878 352.7 1879.1 353.9C1880.2 355.1 1881.9 358 1883 359.3C1884.1 360.5 1884.8 361.3 1885.9 361.7C1887 362 1888.5 361.5 1889.8 361.4C1891.1 361.3 1892.5 360.9 1893.7 361.2C1894.8 361.5 1895.6 362.1 1896.6 362.9C1897.6 363.8 1898.6 365.2 1899.5 366.1C1900.4 366.9 1901.1 367.8 1901.9 368C1902.7 368.2 1903.3 368.2 1904.4 367C1905.4 365.9 1907 363.3 1908.3 361.2C1909.5 359.1 1910.8 356.8 1912.1 354.4C1913.4 352 1914.9 348.6 1916 346.6C1917.2 344.6 1918 343.1 1918.9 342.3C1919.8 341.4 1920.6 341.2 1921.4 341.6C1922.2 342 1922.9 343 1923.8 344.7C1924.7 346.3 1925.7 349.4 1926.7 351.5C1927.7 353.6 1928.7 356.2 1929.6 357.3C1930.5 358.4 1931.2 358.8 1932.1 358.3C1932.9 357.8 1933.6 357 1934.5 354.4C1935.4 351.8 1936.3 346.8 1937.3 342.7C1938.3 338.7 1939.4 333.2 1940.3 330.1C1941.2 327 1941.9 325.4 1942.7 324.3C1943.5 323.1 1944.3 323 1945.2 323.1C1946.1 323.2 1946.9 324.1 1948.1 324.8C1949.2 325.4 1950.7 327.1 1952 327C1953.3 326.9 1954.6 325.5 1955.8 324.3C1957.1 323 1958.4 320.6 1959.7 319.4C1961 318.2 1962.4 317.2 1963.6 317C1964.8 316.8 1965.9 317.2 1967 318C1968.2 318.7 1969.2 319.5 1970.4 321.4C1971.6 323.2 1973 326.1 1974.3 329.1C1975.6 332.2 1976.9 335.9 1978.2 339.8C1979.5 343.7 1980.8 348.1 1982.1 352.5C1983.4 356.8 1984.7 361.8 1986 366.1C1987.3 370.3 1988.5 374.3 1989.8 377.7C1991.1 381.1 1992.3 383.7 1993.7 386.4C1995.2 389.2 1997 391.6 1998.6 394.2C2000.2 396.8 2002 399.8 2003.4 402C2004.9 404.2 2006.2 406.1 2007.3 407.3C2008.5 408.5 2009.1 409.2 2010.2 409.3C2011.4 409.4 2012.8 408.1 2014.1 407.8C2015.4 407.5 2016.7 407.1 2018 407.3C2019.3 407.6 2020.4 408.4 2021.9 409.3C2023.4 410.2 2025 411.7 2026.8 412.7C2028.5 413.6 2030.9 414.5 2032.6 415.1C2034.3 415.7 2036.1 416 2036.9 416.2" fill="none" stroke="#de2a2b" stroke-width="3.2" stroke-linejoin="round" stroke-linecap="round"/>
<path d="M1665.8 417.4C1666.3 417.2 1667.3 416.5 1668.7 416.1C1670.2 415.7 1672.8 415.1 1674.5 415.1C1676.3 415.1 1677.8 415.6 1679.4 416.1C1681 416.6 1682.5 417.6 1684.3 418C1686 418.4 1688.3 418.7 1690.1 418.5C1691.9 418.3 1693.5 417.7 1694.9 416.6C1696.4 415.4 1697.5 413.3 1698.8 411.7C1700.1 410.1 1701.4 408.2 1702.7 406.8C1704 405.5 1705.1 404.4 1706.6 403.4C1708.1 402.5 1709.8 402 1711.5 401C1713.1 400 1714.9 398.4 1716.3 397.6C1717.8 396.8 1719.1 396.3 1720.2 396.2C1721.3 396 1722 395.8 1723.1 396.6C1724.2 397.5 1725.7 399.4 1727 401C1728.3 402.6 1729.6 405.1 1730.9 406.4C1732.2 407.7 1733.5 408.5 1734.8 408.8C1736.1 409.1 1737.4 408.5 1738.7 408.3C1739.9 408.1 1741.2 407.6 1742.5 407.6C1743.8 407.6 1745 407.9 1746.4 408.3C1747.9 408.7 1749.7 409.6 1751.3 409.8C1752.9 409.9 1754.7 409.8 1756.1 409.3C1757.6 408.7 1758.7 407.6 1760 406.4C1761.3 405.1 1762.6 403.4 1763.9 402C1765.2 400.6 1766.7 399 1767.8 398.1C1768.9 397.2 1769.7 396.7 1770.7 396.6C1771.8 396.6 1772.8 396.9 1774.1 397.6C1775.4 398.3 1776.9 400 1778.5 401C1780 402 1781.7 403 1783.3 403.4C1785 403.9 1786.6 403.8 1788.2 403.7C1789.8 403.7 1791.6 403.3 1793 403.2C1794.5 403.1 1795.8 402.9 1796.9 403.2C1798.1 403.4 1798.7 403.7 1799.8 404.4C1801 405.1 1802.4 406.4 1803.7 407.3C1805 408.2 1806.3 409.4 1807.6 409.8C1808.9 410.1 1810.2 410 1811.5 409.3C1812.8 408.5 1814.1 406.4 1815.4 405.4C1816.7 404.4 1817.8 403.9 1819.3 403.4C1820.7 403 1822.7 403 1824.1 402.8C1825.6 402.6 1826.7 402.6 1828 402.2C1829.3 401.8 1830.6 401 1831.9 400.5C1833.2 400 1834.7 399.4 1835.8 399.3C1836.9 399.2 1837.6 399.4 1838.7 400C1839.8 400.7 1841.5 402.1 1842.6 403C1843.7 403.9 1844.5 405.1 1845.5 405.4C1846.5 405.6 1847.3 405.2 1848.4 404.4C1849.5 403.7 1850.8 402.3 1851.9 400.8C1853 399.3 1853.8 396.9 1854.8 395.5C1855.9 394.2 1857.1 393.3 1858.2 392.7C1859.4 392 1860.4 391.8 1861.6 391.7C1862.8 391.7 1864.2 391.9 1865.5 392.3C1866.8 392.6 1868.1 393.6 1869.4 393.7C1870.7 393.9 1872.2 393.8 1873.3 393.2C1874.4 392.7 1875.2 392.1 1876.2 390.3C1877.2 388.6 1878.1 385 1879.1 382.6C1880.1 380.1 1881.1 377.3 1882 375.8C1883 374.2 1884 373.3 1884.9 373.3C1885.9 373.3 1886.9 374.6 1887.9 375.8C1888.8 377 1889.8 380.3 1890.8 380.6C1891.7 380.9 1892.7 379.2 1893.7 377.7C1894.7 376.3 1895.7 374.8 1896.6 371.9C1897.5 369 1898.4 364.1 1899.4 360.2C1900.3 356.3 1901.2 352.1 1902.1 348.6C1902.9 345 1903.5 341.5 1904.4 338.9C1905.2 336.2 1906.1 334.1 1907.3 332.5C1908.4 331 1909.9 330.3 1911.2 329.6C1912.5 329 1913.8 329.1 1915.1 328.7C1916.3 328.2 1917.8 328.1 1918.9 327.2C1920.1 326.3 1920.9 325.1 1921.9 323.3C1922.8 321.5 1923.9 318.9 1924.8 316.5C1925.7 314.1 1926.5 311.2 1927.2 308.7C1927.9 306.3 1928.1 305.2 1928.8 302C1929.5 298.8 1930.5 294.1 1931.5 289.8C1932.4 285.5 1933.4 280.5 1934.3 276.2C1935.2 271.8 1936.1 267.3 1937 263.5C1937.9 259.8 1938.9 256.6 1939.8 253.8C1940.7 251.1 1941.4 248.4 1942.2 247C1943.1 245.6 1943.9 245.4 1944.7 245.3C1945.5 245.2 1946.2 245.8 1947.1 246.5C1948 247.2 1949 248.6 1950 249.5C1951.1 250.3 1952.3 251.4 1953.4 251.9C1954.6 252.3 1955.7 252.1 1956.8 252.1C1958 252 1959.2 251.3 1960.2 251.7C1961.3 252.1 1962.2 252.8 1963.1 254.3C1964.1 255.8 1965.1 258 1966 260.6C1967 263.3 1968.1 266.9 1969 270.3C1969.9 273.7 1970.6 277.5 1971.4 281C1972.2 284.6 1973.1 288.5 1973.8 291.7C1974.5 294.9 1974.9 297 1975.5 300C1976.1 303 1976.6 306 1977.3 309.7C1978 313.4 1978.7 318.3 1979.6 322.3C1980.6 326.4 1981.8 330.4 1983 334C1984.3 337.6 1985.6 341 1986.9 343.7C1988.2 346.5 1989.5 347.9 1990.8 350.5C1992.1 353.1 1993.4 356.2 1994.7 359.3C1996 362.3 1997.3 365.6 1998.6 369C1999.9 372.4 2001.2 376.1 2002.5 379.7C2003.8 383.2 2005.1 387.3 2006.4 390.3C2007.7 393.4 2008.9 396.1 2010.2 398.1C2011.5 400.1 2012.7 401.1 2014.1 402.5C2015.6 403.9 2017.4 405.1 2019 406.4C2020.6 407.7 2022.2 409 2023.8 410.2C2025.5 411.5 2027.1 412.8 2028.7 413.6C2030.3 414.5 2032.2 415.2 2033.6 415.6C2034.9 416 2036.3 416.1 2036.8 416.2" fill="none" stroke="#90278f" stroke-width="3.2" stroke-linejoin="round" stroke-linecap="round"/>
<path d="M1665.9 418.3C1667.2 418.2 1670.7 418.1 1673.6 418C1676.5 418 1680.5 418.1 1683.3 418C1686 417.9 1688 417.8 1690.1 417.5C1692.2 417.3 1694.1 417.2 1695.9 416.6C1697.7 415.9 1699.3 414.8 1700.8 413.6C1702.2 412.5 1703.4 411.1 1704.7 409.8C1705.9 408.5 1707.2 407 1708.5 405.9C1709.8 404.7 1711.1 403.7 1712.4 403C1713.7 402.2 1715 401.8 1716.3 401.5C1717.6 401.2 1719.1 401 1720.2 401.2C1721.3 401.5 1722 401.9 1723.1 403C1724.2 404.1 1725.7 406.4 1727 407.8C1728.3 409.3 1729.7 411 1730.9 411.7C1732 412.4 1732.7 412.4 1733.8 412.2C1734.9 411.9 1736.4 410.8 1737.7 410.2C1739 409.7 1740.3 409 1741.6 408.8C1742.9 408.6 1744 409 1745.4 409.3C1746.9 409.6 1748.7 410.4 1750.3 410.7C1751.9 411.1 1753.5 411.3 1755.2 411.5C1756.8 411.7 1758.4 411.7 1760 411.9C1761.6 412.1 1763.3 412.6 1764.9 412.9C1766.5 413.1 1768.1 413.6 1769.7 413.5C1771.4 413.3 1772.8 412.7 1774.6 412.2C1776.4 411.7 1778.3 410.8 1780.4 410.5C1782.5 410.3 1784.8 410.5 1787.2 410.5C1789.6 410.6 1792.7 410.9 1795 410.7C1797.3 410.5 1798.9 409.7 1800.8 409.3C1802.8 408.8 1804.7 408.2 1806.6 408C1808.6 407.8 1810.5 407.9 1812.5 408C1814.4 408.1 1816.4 408.7 1818.3 408.8C1820.2 408.8 1822.2 408.5 1824.1 408.3C1826.1 408.1 1827.9 407.9 1830 407.6C1832.1 407.4 1834.8 407.2 1836.8 406.8C1838.7 406.5 1839.8 405.8 1841.6 405.4C1843.4 405 1845.2 404.7 1847.4 404.4C1849.6 404.1 1852.9 404.1 1854.8 403.6C1856.7 403 1857.3 402.3 1858.7 401.3C1860.2 400.4 1862 398.7 1863.6 397.7C1865.2 396.7 1866.6 396 1868.4 395.5C1870.2 395 1872.5 395 1874.3 394.7C1876 394.4 1877.5 394.2 1879.1 393.7C1880.7 393.2 1882.5 392.7 1884 391.8C1885.4 390.9 1886.6 389.8 1887.9 388.4C1889.1 387 1890.4 385.5 1891.7 383.5C1893 381.6 1894.3 379.2 1895.6 376.7C1896.9 374.3 1898.2 371.2 1899.5 369C1900.8 366.7 1902.1 364.8 1903.4 363.1C1904.7 361.5 1906 360.7 1907.3 359.3C1908.6 357.8 1910 356.3 1911.2 354.4C1912.3 352.5 1913.2 350.2 1914.1 347.6C1914.9 345 1915.5 341.9 1916.2 338.9C1917 335.8 1917.7 332.4 1918.4 329.1C1919.1 325.9 1919.7 322.8 1920.3 319.4C1921 316 1921.8 311.6 1922.4 308.7C1923 305.8 1923.2 305 1923.9 302C1924.6 299 1925.6 295 1926.7 290.7C1927.8 286.4 1929.2 280.9 1930.5 276.2C1931.8 271.5 1933.1 266.8 1934.4 262.6C1935.7 258.4 1937.1 254.8 1938.4 250.9C1939.7 247 1941 243.3 1942.2 239.3C1943.5 235.2 1944.8 230.8 1946.1 226.6C1947.4 222.4 1948.9 217.6 1950 214C1951.2 210.4 1952 207.6 1952.9 205.3C1953.8 202.9 1954.6 201.2 1955.4 199.9C1956.1 198.6 1956.7 198.1 1957.3 197.7C1958 197.3 1958.6 197.2 1959.2 197.5C1959.9 197.8 1960.5 198 1961.2 199.4C1961.8 200.9 1962.4 203.2 1963.1 206.2C1963.9 209.3 1964.6 213.5 1965.5 217.9C1966.4 222.3 1967.6 227.8 1968.5 232.5C1969.5 237.1 1970.4 241.5 1971.4 246.1C1972.4 250.6 1973.3 255.1 1974.3 259.7C1975.2 264.2 1976.2 268.9 1977.1 273.2C1978 277.6 1978.8 282 1979.6 285.9C1980.3 289.8 1980.9 293.2 1981.4 296.6C1981.9 299.9 1982.1 301.7 1982.6 305.8C1983.1 310 1983.8 316.8 1984.3 321.4C1984.8 325.9 1985.2 329.1 1985.7 333C1986.2 336.9 1986.8 341.1 1987.4 344.7C1988 348.2 1988.6 351.3 1989.2 354.4C1989.9 357.5 1990.4 360.4 1991.3 363.1C1992.2 365.9 1993.5 368.5 1994.7 370.9C1995.9 373.3 1997.5 375.4 1998.6 377.7C1999.7 380 2000.5 382.1 2001.5 384.5C2002.5 386.9 2003.4 389.7 2004.4 392.3C2005.4 394.9 2006.4 397.9 2007.3 400C2008.3 402.2 2009.1 403.9 2010.2 405.4C2011.4 406.9 2012.7 408.2 2014.1 409.3C2015.6 410.3 2017 410.9 2019 411.7C2020.9 412.5 2023.4 413.4 2025.8 414.1C2028.2 414.9 2031.7 415.6 2033.6 416.1C2035.4 416.5 2036.3 416.6 2036.8 416.7" fill="none" stroke="#1aa3d8" stroke-width="3.2" stroke-linejoin="round" stroke-linecap="round"/>
<text transform="translate(20.6 251.4) rotate(-90)" font-size="24.95" text-anchor="middle">Number of events</text>
<text transform="translate(51 250.9) rotate(-90)" font-size="24.95" text-anchor="middle">(fraction of total)</text>
<text transform="translate(20.6 854.6) rotate(-90)" font-size="24.95" text-anchor="middle">Number of events</text>
<text transform="translate(51 854.1) rotate(-90)" font-size="24.95" text-anchor="middle">(fraction of total)</text>
<text x="-2.5" y="31.3" font-size="41.5" text-anchor="start" fill="#000" font-weight="bold" class="b">a</text>
<text x="577.8" y="31.3" font-size="41.5" text-anchor="start" fill="#000" font-weight="bold" class="b">b</text>
<text x="1080.6" y="31.3" font-size="41.5" text-anchor="start" fill="#000" font-weight="bold" class="b">c</text>
<text x="1584.6" y="31.3" font-size="41.5" text-anchor="start" fill="#000" font-weight="bold" class="b">d</text>
<text x="-0.6" y="634.5" font-size="41.5" text-anchor="start" fill="#000" font-weight="bold" class="b">e</text>
<text x="213.2" y="55.2" font-size="25.2" text-anchor="start" fill="#000">FLucNC</text>
<text x="714.5" y="55.2" font-size="25.2" text-anchor="start" fill="#000">FLucN</text>
<text x="1192.5" y="55.2" font-size="25.2">FLucN<tspan font-size="16.2" dy="3.6" dx="-0.8">S</tspan></text>
<text x="1714.3" y="55.2" font-size="25.2" text-anchor="start" fill="#000">FLucC</text>
<text x="213.2" y="658" font-size="25.2" text-anchor="start" fill="#000">FLucNC</text>
<rect x="367.6" y="25.9" width="50.7" height="68.3" rx="20.5" ry="20.5" fill="#fff" stroke="#fbcf2e" stroke-width="5.5"/>
<rect x="330.1" y="28.1" width="35.2" height="63.7" rx="17.6" ry="17.6" fill="#fff" stroke="#5b8fce" stroke-width="3.8"/>
<ellipse cx="440.5" cy="59.4" rx="21.5" ry="20.6" fill="#fff" stroke="#6cc069" stroke-width="3.8"/>
<text x="332.9" y="68" font-size="27.5">N<tspan font-size="16.5" dy="2.5" dx="-0.8">S</tspan></text>
<text x="379" y="68" font-size="27.5">N<tspan font-size="16.5" dy="2.5" dx="-0.5">L</tspan></text>
<text x="439" y="68.6" font-size="28.5" fill="#6cc069" text-anchor="middle" class="g">C</text>
<polygon points="456.3,17.9 459.6,25.3 467.7,26.2 461.7,31.6 463.4,39.6 456.3,35.5 449.2,39.6 450.9,31.6 444.9,26.2 453,25.3" fill="#e1251b"/>
<polygon points="327.2,82.6 330.5,90 338.6,90.9 332.6,96.3 334.3,104.3 327.2,100.2 320.1,104.3 321.8,96.3 315.8,90.9 323.9,90" fill="#0aa64c"/>
<rect x="858.2" y="25.9" width="50.7" height="68.3" rx="20.5" ry="20.5" fill="#fff" stroke="#fbcf2e" stroke-width="5.5"/>
<rect x="820.7" y="28.1" width="35.2" height="63.7" rx="17.6" ry="17.6" fill="#fff" stroke="#5b8fce" stroke-width="3.8"/>
<ellipse cx="931.1" cy="59.4" rx="21.5" ry="20.6" fill="#fff" stroke="#6cc069" stroke-width="3.8"/>
<text x="823.5" y="68" font-size="27.5">N<tspan font-size="16.5" dy="2.5" dx="-0.8">S</tspan></text>
<text x="869.6" y="68" font-size="27.5">N<tspan font-size="16.5" dy="2.5" dx="-0.5">L</tspan></text>
<text x="929.6" y="68.6" font-size="28.5" fill="#6cc069" text-anchor="middle" class="g">C</text>
<polygon points="817.8,83.2 821.1,90.6 829.2,91.5 823.2,96.9 824.9,104.9 817.8,100.8 810.7,104.9 812.4,96.9 806.4,91.5 814.5,90.6" fill="#0aa64c"/>
<polygon points="915.1,80.5 918.4,87.9 926.5,88.8 920.5,94.2 922.2,102.2 915.1,98.1 908,102.2 909.7,94.2 903.7,88.8 911.8,87.9" fill="#e1251b"/>
<rect x="1364.6" y="25.9" width="50.7" height="68.3" rx="20.5" ry="20.5" fill="#fff" stroke="#fbcf2e" stroke-width="5.5"/>
<rect x="1327" y="28.1" width="35.2" height="63.7" rx="17.6" ry="17.6" fill="#fff" stroke="#5b8fce" stroke-width="3.8"/>
<ellipse cx="1437.5" cy="59.4" rx="21.5" ry="20.6" fill="#fff" stroke="#6cc069" stroke-width="3.8"/>
<text x="1329.9" y="68" font-size="27.5">N<tspan font-size="16.5" dy="2.5" dx="-0.8">S</tspan></text>
<text x="1376" y="68" font-size="27.5">N<tspan font-size="16.5" dy="2.5" dx="-0.5">L</tspan></text>
<text x="1436" y="68.6" font-size="28.5" fill="#6cc069" text-anchor="middle" class="g">C</text>
<polygon points="1322.5,17 1325.8,24.4 1333.9,25.3 1327.9,30.7 1329.6,38.7 1322.5,34.6 1315.4,38.7 1317.1,30.7 1311.1,25.3 1319.2,24.4" fill="#e1251b"/>
<polygon points="1326.5,83.2 1329.8,90.6 1337.9,91.5 1331.9,96.9 1333.6,104.9 1326.5,100.8 1319.4,104.9 1321.1,96.9 1315.1,91.5 1323.2,90.6" fill="#0aa64c"/>
<rect x="1854.4" y="25.9" width="50.7" height="68.3" rx="20.5" ry="20.5" fill="#fff" stroke="#fbcf2e" stroke-width="5.5"/>
<rect x="1816.8" y="28.1" width="35.2" height="63.7" rx="17.6" ry="17.6" fill="#fff" stroke="#5b8fce" stroke-width="3.8"/>
<ellipse cx="1927.3" cy="59.4" rx="21.5" ry="20.6" fill="#fff" stroke="#6cc069" stroke-width="3.8"/>
<text x="1819.7" y="68" font-size="27.5">N<tspan font-size="16.5" dy="2.5" dx="-0.8">S</tspan></text>
<text x="1865.8" y="68" font-size="27.5">N<tspan font-size="16.5" dy="2.5" dx="-0.5">L</tspan></text>
<text x="1925.8" y="68.6" font-size="28.5" fill="#6cc069" text-anchor="middle" class="g">C</text>
<polygon points="1941.6,17.9 1944.9,25.3 1953,26.2 1947,31.6 1948.7,39.6 1941.6,35.5 1934.5,39.6 1936.2,31.6 1930.2,26.2 1938.3,25.3" fill="#e1251b"/>
<polygon points="1928,80.3 1931.3,87.7 1939.4,88.6 1933.4,94 1935.1,102 1928,97.9 1920.9,102 1922.6,94 1916.6,88.6 1924.7,87.7" fill="#0aa64c"/>
<rect x="367.6" y="629.8" width="50.7" height="68.3" rx="20.5" ry="20.5" fill="#fff" stroke="#fbcf2e" stroke-width="5.5"/>
<rect x="330.1" y="632" width="35.2" height="63.7" rx="17.6" ry="17.6" fill="#fff" stroke="#5b8fce" stroke-width="3.8"/>
<ellipse cx="440.5" cy="663.3" rx="21.5" ry="20.6" fill="#fff" stroke="#6cc069" stroke-width="3.8"/>
<text x="332.9" y="671.9" font-size="27.5">N<tspan font-size="16.5" dy="2.5" dx="-0.8">S</tspan></text>
<text x="379" y="671.9" font-size="27.5">N<tspan font-size="16.5" dy="2.5" dx="-0.5">L</tspan></text>
<text x="439" y="672.5" font-size="28.5" fill="#6cc069" text-anchor="middle" class="g">C</text>
<polygon points="456.8,622.1 460.1,629.5 468.2,630.4 462.2,635.8 463.9,643.8 456.8,639.7 449.7,643.8 451.4,635.8 445.4,630.4 453.5,629.5" fill="#e1251b"/>
<polygon points="327.2,686.8 330.5,694.2 338.6,695.1 332.6,700.5 334.3,708.5 327.2,704.4 320.1,708.5 321.8,700.5 315.8,695.1 323.9,694.2" fill="#0aa64c"/>
<rect x="668.7" y="530.3" width="895.2" height="37.1" fill="#fff" stroke="#000" stroke-width="1.4"/>
<line x1="679.6" y1="550.3" x2="728.2" y2="550.3" stroke="#000" stroke-width="1.6" stroke-linecap="round"/>
<text x="736" y="557.5" font-size="22.8" text-anchor="start" fill="#000" word-spacing="1.2">Native</text>
<line x1="865.3" y1="550.3" x2="913" y2="550.3" stroke="#de2a2b" stroke-width="3.2" stroke-linecap="round"/>
<text x="921.5" y="557.5" font-size="22.8" text-anchor="start" fill="#000" word-spacing="1.2">K-bound</text>
<line x1="1074.2" y1="550.3" x2="1121.8" y2="550.3" stroke="#90278f" stroke-width="3.2" stroke-linecap="round"/>
<text x="1130" y="557.5" font-size="22.8" text-anchor="start" fill="#000" word-spacing="1.2">+GrpE 0 min</text>
<line x1="1333.2" y1="550.3" x2="1380.9" y2="550.3" stroke="#1aa3d8" stroke-width="3.2" stroke-linecap="round"/>
<text x="1389" y="557.5" font-size="22.8" text-anchor="start" fill="#000" word-spacing="1.2">+GrpE 60 min</text>
<line x1="135.8" y1="1021.4" x2="534.8" y2="1021.4" stroke="#000" stroke-width="2.0"/>
<line x1="151.8" y1="1021.4" x2="151.8" y2="1037.4" stroke="#000" stroke-width="2.0"/>
<line x1="179.1" y1="1021.4" x2="179.1" y2="1030.9" stroke="#000" stroke-width="2.0"/>
<line x1="206.4" y1="1021.4" x2="206.4" y2="1037.4" stroke="#000" stroke-width="2.0"/>
<line x1="233.7" y1="1021.4" x2="233.7" y2="1030.9" stroke="#000" stroke-width="2.0"/>
<line x1="260.9" y1="1021.4" x2="260.9" y2="1037.4" stroke="#000" stroke-width="2.0"/>
<line x1="288.2" y1="1021.4" x2="288.2" y2="1030.9" stroke="#000" stroke-width="2.0"/>
<line x1="315.5" y1="1021.4" x2="315.5" y2="1037.4" stroke="#000" stroke-width="2.0"/>
<line x1="342.8" y1="1021.4" x2="342.8" y2="1030.9" stroke="#000" stroke-width="2.0"/>
<line x1="370.1" y1="1021.4" x2="370.1" y2="1037.4" stroke="#000" stroke-width="2.0"/>
<line x1="397.4" y1="1021.4" x2="397.4" y2="1030.9" stroke="#000" stroke-width="2.0"/>
<line x1="424.7" y1="1021.4" x2="424.7" y2="1037.4" stroke="#000" stroke-width="2.0"/>
<line x1="451.9" y1="1021.4" x2="451.9" y2="1030.9" stroke="#000" stroke-width="2.0"/>
<line x1="479.2" y1="1021.4" x2="479.2" y2="1037.4" stroke="#000" stroke-width="2.0"/>
<line x1="506.5" y1="1021.4" x2="506.5" y2="1030.9" stroke="#000" stroke-width="2.0"/>
<line x1="533.8" y1="1021.4" x2="533.8" y2="1037.4" stroke="#000" stroke-width="2.0"/>
<text x="151.8" y="1066.8" font-size="25.2" text-anchor="middle" fill="#000">–0.2</text>
<text x="206.4" y="1066.8" font-size="25.2" text-anchor="middle" fill="#000">0.0</text>
<text x="260.9" y="1066.8" font-size="25.2" text-anchor="middle" fill="#000">0.2</text>
<text x="315.5" y="1066.8" font-size="25.2" text-anchor="middle" fill="#000">0.4</text>
<text x="370.1" y="1066.8" font-size="25.2" text-anchor="middle" fill="#000">0.6</text>
<text x="424.7" y="1066.8" font-size="25.2" text-anchor="middle" fill="#000">0.8</text>
<text x="479.2" y="1066.8" font-size="25.2" text-anchor="middle" fill="#000">1.0</text>
<text x="533.8" y="1066.8" font-size="25.2" text-anchor="middle" fill="#000">1.2</text>
<text x="342.5" y="1106.4" font-size="25.4" text-anchor="middle">FRET efficiency (<tspan font-style="italic">f</tspan><tspan font-size="15.6" dy="3.4" dx="0.9">E</tspan><tspan dy="-3.4" dx="0.6">)</tspan></text>
<line x1="151.8" y1="1037.4" x2="151.8" y2="685.5" stroke="#000" stroke-width="2.0"/>
<line x1="142.3" y1="1007.4" x2="151.8" y2="1007.4" stroke="#000" stroke-width="2.0"/>
<line x1="142.3" y1="993.5" x2="151.8" y2="993.5" stroke="#000" stroke-width="2.0"/>
<line x1="135.8" y1="979.5" x2="151.8" y2="979.5" stroke="#000" stroke-width="2.0"/>
<line x1="142.3" y1="965.6" x2="151.8" y2="965.6" stroke="#000" stroke-width="2.0"/>
<line x1="142.3" y1="951.6" x2="151.8" y2="951.6" stroke="#000" stroke-width="2.0"/>
<line x1="135.8" y1="937.7" x2="151.8" y2="937.7" stroke="#000" stroke-width="2.0"/>
<line x1="142.3" y1="923.7" x2="151.8" y2="923.7" stroke="#000" stroke-width="2.0"/>
<line x1="142.3" y1="909.8" x2="151.8" y2="909.8" stroke="#000" stroke-width="2.0"/>
<line x1="135.8" y1="895.8" x2="151.8" y2="895.8" stroke="#000" stroke-width="2.0"/>
<line x1="142.3" y1="881.9" x2="151.8" y2="881.9" stroke="#000" stroke-width="2.0"/>
<line x1="142.3" y1="867.9" x2="151.8" y2="867.9" stroke="#000" stroke-width="2.0"/>
<line x1="135.8" y1="854" x2="151.8" y2="854" stroke="#000" stroke-width="2.0"/>
<line x1="142.3" y1="840" x2="151.8" y2="840" stroke="#000" stroke-width="2.0"/>
<line x1="142.3" y1="826" x2="151.8" y2="826" stroke="#000" stroke-width="2.0"/>
<line x1="135.8" y1="812.1" x2="151.8" y2="812.1" stroke="#000" stroke-width="2.0"/>
<line x1="142.3" y1="798.1" x2="151.8" y2="798.1" stroke="#000" stroke-width="2.0"/>
<line x1="142.3" y1="784.2" x2="151.8" y2="784.2" stroke="#000" stroke-width="2.0"/>
<line x1="135.8" y1="770.2" x2="151.8" y2="770.2" stroke="#000" stroke-width="2.0"/>
<line x1="142.3" y1="756.3" x2="151.8" y2="756.3" stroke="#000" stroke-width="2.0"/>
<line x1="142.3" y1="742.3" x2="151.8" y2="742.3" stroke="#000" stroke-width="2.0"/>
<line x1="135.8" y1="728.4" x2="151.8" y2="728.4" stroke="#000" stroke-width="2.0"/>
<line x1="142.3" y1="714.4" x2="151.8" y2="714.4" stroke="#000" stroke-width="2.0"/>
<line x1="142.3" y1="700.5" x2="151.8" y2="700.5" stroke="#000" stroke-width="2.0"/>
<line x1="135.8" y1="686.5" x2="151.8" y2="686.5" stroke="#000" stroke-width="2.0"/>
<text x="124" y="1029" font-size="25.2" text-anchor="end" fill="#000">0</text>
<text x="124" y="987.1" font-size="25.2" text-anchor="end" fill="#000">0.03</text>
<text x="124" y="945.3" font-size="25.2" text-anchor="end" fill="#000">0.06</text>
<text x="124" y="903.4" font-size="25.2" text-anchor="end" fill="#000">0.09</text>
<text x="124" y="861.6" font-size="25.2" text-anchor="end" fill="#000">0.12</text>
<text x="124" y="819.7" font-size="25.2" text-anchor="end" fill="#000">0.15</text>
<text x="124" y="777.8" font-size="25.2" text-anchor="end" fill="#000">0.18</text>
<text x="124" y="736" font-size="25.2" text-anchor="end" fill="#000">0.21</text>
<text x="124" y="694.1" font-size="25.2" text-anchor="end" fill="#000">0.24</text>
<path d="M196.8 1020.6C197.1 1020.4 197.6 1020.4 198.6 1019.6C199.5 1018.7 201.3 1017.1 202.5 1015.7C203.6 1014.2 204.4 1012.8 205.4 1010.8C206.3 1008.9 207.3 1006.1 208.3 1004C209.3 1001.9 210.2 999.8 211.2 998.2C212.2 996.6 213 995.3 214.1 994.3C215.2 993.3 216.7 993.3 218 992.4C219.3 991.4 220.7 990.1 221.9 988.5C223 986.9 223.8 985.2 224.8 982.7C225.8 980.1 226.6 977 227.7 972.9C228.8 968.9 230.3 963.2 231.5 958.4C232.8 953.5 233.8 949.3 235.1 943.8C236.4 938.3 238.2 930.7 239.3 925.3C240.5 920 241.2 916.3 242.1 911.7C242.9 907.2 243.6 903.4 244.5 897.8C245.3 892.3 246.3 884.9 247.1 878.4C248 871.9 248.8 865.1 249.6 859C250.4 852.8 251.2 846.7 252 841.5C252.7 836.3 253.5 832 254.2 827.9C255 823.9 255.6 820.4 256.4 817.2C257.1 814.1 257.9 811.3 258.8 809C259.7 806.7 260.7 804.6 261.7 803.3C262.8 802.1 264.1 801.5 265.1 801.5C266.2 801.5 267 802 268 803.3C269 804.7 270.1 806.8 270.9 809.5C271.8 812.1 272.4 815.4 273.3 819.2C274.1 822.9 275.2 827.4 276.2 831.8C277.2 836.2 278.2 840.9 279.2 845.4C280.2 849.9 281.2 854.6 282.2 859C283.2 863.4 284.1 867.4 285 871.6C286 875.8 287 880 287.9 884.2C288.8 888.5 289.6 892.1 290.7 896.9C291.7 901.6 292.9 907.5 294.1 912.7C295.3 917.9 296.5 923.1 297.7 928.3C299 933.4 300.4 938.9 301.7 943.8C303 948.7 304.2 953.2 305.4 957.4C306.7 961.6 308 965.5 309.3 969.1C310.6 972.6 311.9 975.9 313.2 978.8C314.5 981.7 315.8 984.3 317.1 986.5C318.4 988.8 319.7 990.4 321 992.4C322.3 994.3 323.5 996.6 324.8 998.2C326.1 999.8 327.4 1001.1 328.7 1002.1C330 1003 331.3 1003.5 332.6 1004C333.9 1004.5 335.2 1004.3 336.5 1005C337.8 1005.7 339.1 1007.1 340.4 1008.4C341.7 1009.7 343.1 1011.7 344.3 1012.8C345.4 1013.8 346 1014.1 347.2 1014.7C348.4 1015.3 350.1 1016.3 351.7 1016.5C353.2 1016.6 354.9 1015.7 356.5 1015.5C358.1 1015.4 359.6 1015.4 361.4 1015.6C363.2 1015.8 365.3 1016.4 367.2 1016.6C369.1 1016.8 371.1 1016.6 373 1016.8C375 1017 376.9 1017.5 378.9 1017.8C380.8 1018.1 382.7 1018.4 384.7 1018.6C386.6 1018.8 388.6 1018.9 390.5 1018.8C392.5 1018.7 394.4 1018.3 396.3 1018.1C398.3 1017.9 400.2 1017.7 402.2 1017.8C404.1 1017.9 406.1 1018.3 408 1018.6C409.9 1018.9 411.9 1019.4 413.8 1019.6C415.8 1019.7 417.7 1019.4 419.7 1019.4C421.6 1019.3 423.2 1019 425.5 1019.1C427.7 1019.1 430.7 1019.5 433.2 1019.6C435.8 1019.6 438.8 1019.5 441 1019.6C443.3 1019.6 444.3 1019.9 446.8 1020C449.4 1020.2 453.3 1020.5 456.6 1020.5C459.8 1020.5 463.4 1020.3 466.3 1020C469.2 1019.8 471.8 1019.3 474 1019.1C476.3 1018.9 477.9 1018.8 479.9 1018.8C481.8 1018.8 483.4 1018.9 485.7 1019.1C488 1019.3 490.2 1019.7 493.5 1020C496.7 1020.4 499.4 1020.8 505.1 1021C510.9 1021.2 524.2 1021.2 528 1021.3" fill="none" stroke="#000" stroke-width="2.75" stroke-linejoin="round" stroke-linecap="round"/>
<path d="M156.7 1019C157.2 1019 158.4 1019 159.7 1018.9C161 1018.8 163.1 1018.8 164.6 1018.4C166 1017.9 167.2 1016.9 168.5 1016.2C169.8 1015.4 171 1014.6 172.3 1014C173.6 1013.5 174.9 1013.5 176.2 1013C177.5 1012.5 178.8 1012 180.1 1011C181.4 1010 182.9 1008.9 184 1006.9C185.1 1005 186.1 1002.4 186.9 999.2C187.7 995.9 188.3 991.9 188.9 987.5C189.6 983.1 190.3 978.1 190.9 972.9C191.5 967.8 192.1 961.9 192.6 956.4C193.1 950.9 193.5 945.1 193.9 939.9C194.3 934.7 194.6 929.9 194.9 925.3C195.2 920.8 195.4 918.1 195.7 912.7C196 907.3 196.3 900.3 196.7 893C197.1 885.7 197.6 876 198 868.7C198.4 861.4 198.7 855.8 199 849.3C199.4 842.8 199.7 836.3 200 829.9C200.3 823.4 200.6 817.6 200.9 810.4C201.3 803.3 201.7 794 202 786.8C202.4 779.7 202.7 773.1 203.1 767.4C203.4 761.8 203.6 758.5 203.9 752.9C204.3 747.2 204.8 739.4 205.3 733.4C205.8 727.4 206.3 721.9 206.8 716.9C207.3 711.9 208 706.7 208.4 703.3C208.9 699.9 209.1 698.1 209.4 696.7C209.8 695.3 210.3 695 210.7 695.1C211.2 695.1 211.7 695.5 212.2 697.2C212.6 698.9 212.9 701.6 213.3 705.3C213.7 708.9 214.2 713.7 214.7 718.9C215.1 724 215.6 730.7 216 736.3C216.4 742 216.7 747.7 217 752.9C217.3 758 217.5 762.6 217.7 767.4C217.9 772.3 218 774.8 218.2 782C218.5 789.2 218.8 802.4 219.1 810.4C219.3 818.4 219.5 823.4 219.8 829.9C220.1 836.3 220.4 842.8 220.7 849.3C221 855.8 221.4 862.2 221.7 868.7C222 875.2 222.2 880.3 222.6 888.1C223 896 223.5 908.9 223.9 915.6C224.3 922.3 224.5 924.2 224.9 928.3C225.4 932.3 226 936.5 226.6 939.9C227.1 943.3 227.5 946.4 228.2 948.7C228.9 950.9 229.7 952.3 230.6 953.5C231.5 954.7 232.6 954.6 233.5 955.9C234.5 957.2 235.5 959.3 236.4 961.3C237.4 963.3 238.5 966.2 239.4 968.1C240.3 969.9 241 971.6 241.8 972.5C242.6 973.3 243.3 973.5 244.2 973.4C245.1 973.3 246.1 973 247.1 972C248.2 970.9 249.5 969.1 250.5 967.1C251.6 965.2 252.5 962.7 253.4 960.3C254.4 958 255.5 954.9 256.4 953C257.3 951.2 258 949.9 258.8 949.1C259.6 948.3 260.4 948 261.2 948.2C262 948.3 262.8 948.9 263.6 950.1C264.5 951.3 265.3 953.4 266.1 955.5C266.9 957.5 267.6 960.1 268.5 962.3C269.4 964.4 270.3 966.4 271.4 968.1C272.6 969.8 273.8 971.1 275.3 972.5C276.8 973.8 278.5 975 280.2 976.3C281.8 977.7 283.4 979.1 285 980.7C286.6 982.3 288.3 984.3 289.9 986.1C291.5 987.8 293.1 989.8 294.7 991.4C296.3 993 298 994.5 299.6 995.8C301.2 997 302.8 997.8 304.4 998.7C306.1 999.6 307.7 1000.2 309.3 1001.1C310.9 1002 312.5 1003.2 314.2 1004C315.8 1004.8 317.6 1005.7 319 1006C320.5 1006.2 321.6 1005.6 322.9 1005.5C324.2 1005.3 325.5 1005 326.8 1005.2C328.1 1005.3 329.4 1005.9 330.7 1006.4C332 1007 333.3 1007.9 334.6 1008.4C335.9 1008.9 336.7 1009.2 338.4 1009.4C340.2 1009.6 343 1009.8 344.9 1009.7C346.7 1009.5 348.1 1008.6 349.7 1008.2C351.3 1007.9 353 1007.6 354.6 1007.6C356.2 1007.6 357.8 1007.9 359.4 1008.3C361 1008.8 362.7 1009.6 364.3 1010.3C365.9 1011.1 367.5 1012 369.1 1012.8C370.8 1013.5 372.4 1014.4 374 1014.7C375.6 1015 377.4 1014.9 378.9 1014.7C380.3 1014.5 381.4 1013.8 382.7 1013.5C384 1013.3 385.2 1013.2 386.6 1013.2C388.1 1013.3 389.9 1013.6 391.5 1013.9C393.1 1014.3 394.7 1015 396.3 1015.5C398 1015.9 399.6 1016.5 401.2 1016.6C402.8 1016.8 404.6 1016.8 406.1 1016.6C407.5 1016.5 408.6 1015.9 409.9 1015.5C411.2 1015.1 412.5 1014.5 413.8 1014.2C415.1 1014 416.3 1013.9 417.7 1013.9C419.2 1014 420.9 1014.3 422.6 1014.5C424.2 1014.7 425.6 1015 427.4 1015.2C429.2 1015.4 431.3 1015.4 433.2 1015.5C435.2 1015.5 437.1 1015.3 439.1 1015.5C441 1015.6 443 1016 444.9 1016.5C446.8 1016.9 449 1017.8 450.7 1018.1C452.5 1018.4 454 1018.3 455.6 1018.1C457.2 1017.9 458.7 1017.2 460.4 1016.8C462.2 1016.5 464.3 1016.4 466.3 1016.2C468.2 1015.9 470.2 1015.7 472.1 1015.5C474 1015.2 476 1014.8 477.9 1014.7C479.9 1014.7 481.8 1014.9 483.8 1015.2C485.7 1015.4 487.6 1015.8 489.6 1016.2C491.5 1016.5 493.5 1016.8 495.4 1017.1C497.4 1017.5 499.3 1017.8 501.2 1018.1C503.2 1018.4 504.8 1018.7 507.1 1019.1C509.3 1019.5 511.3 1020.2 514.8 1020.5C518.3 1020.8 525.9 1020.9 528.1 1021" fill="none" stroke="#de2a2b" stroke-width="2.7" stroke-linejoin="round" stroke-linecap="round"/>
<path d="M156.7 1021.3C158 1021.3 160.8 1021.3 164.6 1021.3C168.3 1021.3 174.3 1021.5 179.1 1021.5C184 1021.5 191 1021.6 193.7 1021.3C196.5 1021 194.8 1020.5 195.7 1019.6C196.5 1018.6 197.4 1017.1 198.6 1015.7C199.7 1014.3 201.2 1012.4 202.5 1011.3C203.7 1010.3 204.9 1010.3 206.3 1009.4C207.8 1008.5 209.6 1007.3 211.2 1006C212.8 1004.6 214.6 1003 216.1 1001.1C217.5 999.2 218.6 996.2 219.9 994.3C221.2 992.4 222.5 990.6 223.8 989.4C225.1 988.3 226.4 988.1 227.7 987.5C229 986.9 230.5 986.9 231.6 986.1C232.7 985.2 233.5 984 234.5 982.7C235.5 981.3 236.4 979.4 237.4 977.8C238.4 976.2 239.4 974.1 240.3 972.9C241.3 971.8 242.1 971.1 243.2 970.8C244.4 970.5 245.8 971 247.1 971.2C248.4 971.4 249.9 972.2 251 972C252.2 971.8 253 971 253.9 970C254.9 969.1 255.9 967.5 256.8 966.1C257.8 964.8 258.8 963.1 259.8 961.8C260.7 960.5 261.5 959.2 262.7 958.4C263.8 957.6 265.3 957.2 266.6 956.9C267.9 956.6 269.2 956.4 270.4 956.4C271.7 956.4 273 957 274.3 956.9C275.6 956.8 276.9 956.8 278.2 955.9C279.5 955 280.9 953.4 282.1 951.6C283.3 949.7 284.5 946.3 285.5 944.8C286.6 943.3 287.5 942.5 288.4 942.5C289.3 942.5 290 942.9 290.8 944.8C291.7 946.6 292.5 950.6 293.3 953.5C294.1 956.4 294.9 959.7 295.7 962.3C296.5 964.8 297.4 967.7 298.1 969.1C298.9 970.4 299.3 970.7 300.1 970.5C300.8 970.3 301.6 969.8 302.5 968.1C303.4 966.4 304.5 962.3 305.4 960.3C306.3 958.4 307 957.2 307.8 956.4C308.7 955.7 309.4 955.5 310.3 955.9C311.2 956.3 312.2 957.5 313.2 958.9C314.2 960.2 315.1 962.7 316.1 964.2C317.1 965.7 318 967.3 319 968.1C320.1 968.9 321.3 969.1 322.4 969.1C323.5 969.1 324.6 968.9 325.8 968.1C327 967.3 328.4 965.7 329.7 964.2C331 962.7 332.5 960.4 333.6 959.3C334.7 958.3 335.6 957.9 336.5 957.9C337.4 957.9 337.9 958.3 338.9 959.3C340 960.4 341.8 962.7 342.9 964.4C344.1 966 344.9 968.5 345.8 969.2C346.7 969.9 347.4 969.9 348.3 968.7C349.1 967.4 350.2 964.2 351.2 961.8C352.1 959.5 353.1 956.2 354.1 954.5C355.1 952.8 356.1 951.9 357 951.8C357.9 951.6 358.5 952.1 359.4 953.5C360.3 954.9 361.4 958.2 362.3 960.3C363.3 962.4 364.4 965.1 365.3 966.1C366.1 967.2 366.8 967.2 367.7 966.6C368.6 966.1 369.6 964.1 370.6 962.7C371.6 961.4 372.6 959.1 373.5 958.4C374.4 957.6 375.1 957.4 375.9 958.1C376.7 958.7 377.6 960.3 378.4 962.3C379.2 964.2 380 967.8 380.8 970C381.6 972.3 382.4 974.5 383.2 975.9C384 977.2 384.8 978 385.7 978C386.5 978 387.5 977.2 388.6 975.9C389.6 974.5 390.9 971.3 392 970C393 968.8 393.9 968.1 394.9 968.3C395.9 968.4 396.8 969.4 397.8 971C398.8 972.6 399.8 975.7 400.7 977.8C401.6 979.9 402.2 982.1 403.1 983.6C404 985.1 405.1 986.2 406.1 986.7C407 987.3 408 987.2 409 987C409.9 986.8 410.9 985.9 411.9 985.6C412.9 985.2 413.7 984.9 414.8 985.1C415.9 985.2 417.4 986.1 418.7 986.5C420 986.9 421.4 987.6 422.6 987.5C423.8 987.4 424.8 986.8 426 986.1C427.1 985.3 428.3 983.6 429.4 983.1C430.4 982.6 431.3 982.6 432.3 983C433.2 983.4 434.2 984.2 435.2 985.6C436.2 987 437.1 989.8 438.1 991.4C439.1 993 440.1 994.5 441 995.3C441.9 996.1 442.5 996.4 443.4 996.1C444.4 995.7 445.8 994.4 446.8 993.3C447.9 992.3 448.8 990.6 449.8 989.9C450.7 989.3 451.6 989.1 452.7 989.4C453.7 989.8 454.9 990.7 456.1 991.9C457.2 993.1 458.3 995.3 459.5 996.7C460.7 998.2 462.1 999.7 463.4 1000.6C464.7 1001.5 466 1002 467.2 1002.3C468.5 1002.5 469.7 1002.4 471.1 1002.1C472.6 1001.7 474.4 1000.9 476 1000.1C477.6 999.4 479.4 998.2 480.8 997.7C482.3 997.2 483.4 997 484.7 997C486 997 487.4 997 488.6 997.7C489.8 998.4 490.9 999.6 492 1001.1C493.1 1002.6 494.2 1005 495.4 1006.9C496.6 1008.9 498 1011.1 499.3 1012.8C500.6 1014.5 501.7 1015.9 503.2 1017.1C504.6 1018.3 506.1 1019.3 508 1020C510 1020.8 512.1 1021.3 514.8 1021.5C517.6 1021.7 522.4 1021.5 524.6 1021.5C526.8 1021.5 527.5 1021.5 528.1 1021.5" fill="none" stroke="#90278f" stroke-width="2.7" stroke-linejoin="round" stroke-linecap="round"/>
<path d="M166.9 1020.7C167.3 1020.6 168.2 1020.3 169.4 1020C170.7 1019.8 172.7 1019.4 174.3 1019.4C175.9 1019.3 177.5 1019.4 179.1 1019.6C180.8 1019.8 182.4 1020.5 184 1020.5C185.6 1020.6 187.4 1020.4 188.9 1020C190.3 1019.7 191.4 1019.5 192.7 1018.6C194 1017.7 195.3 1016 196.6 1014.7C197.9 1013.4 199.2 1011.8 200.5 1010.8C201.8 1009.8 203.1 1009.2 204.4 1008.9C205.7 1008.6 207 1009 208.3 1008.9C209.6 1008.8 211 1008.9 212.2 1008.4C213.3 1007.9 214.1 1007.5 215.1 1006C216.1 1004.4 217.1 1002.1 218 999.2C218.9 996.2 219.7 992.5 220.6 988.5C221.6 984.4 222.8 979.4 223.8 974.9C224.8 970.3 225.7 966 226.7 961.3C227.7 956.6 228.7 951.4 229.7 946.7C230.7 942 231.7 937.5 232.7 933.1C233.7 928.7 234.7 924.4 235.7 920.5C236.6 916.6 237.5 913.1 238.3 909.8C239.2 906.5 239.7 904.4 240.6 900.8C241.5 897.2 242.6 892.7 243.7 888.1C244.8 883.6 246 878.6 247.2 873.6C248.5 868.5 249.8 863 251 858C252.2 853 253.4 847.7 254.4 843.5C255.4 839.2 256.2 836 257 832.8C257.8 829.5 258.6 826.2 259.3 824C260 821.9 260.7 820.7 261.2 819.8C261.8 819 262.1 819 262.7 819.2C263.2 819.4 263.9 819.8 264.6 821.1C265.3 822.4 266.2 824.7 267 826.9C267.9 829.2 268.6 832 269.5 834.7C270.4 837.5 271.3 840.4 272.4 843.5C273.4 846.5 274.7 849.8 275.8 853.2C276.9 856.6 278.2 860.1 279.2 863.9C280.2 867.6 281.1 871.5 282 875.5C282.9 879.6 283.9 883.9 284.8 888.1C285.7 892.3 286.5 896.7 287.4 900.8C288.2 904.9 289 908.8 289.8 912.7C290.6 916.6 291.2 920.8 292.3 924.4C293.3 927.9 294.8 930.7 296 934.1C297.2 937.5 298.6 941.2 299.7 944.8C300.9 948.3 301.9 951.7 303 955.5C304.1 959.2 305.2 963.4 306.4 967.1C307.6 970.8 309 974.7 310.3 977.8C311.6 980.9 312.9 983.5 314.2 985.6C315.5 987.7 316.7 989.2 318 990.4C319.3 991.6 320.6 992.1 321.9 992.8C323.2 993.6 324.5 993.8 325.8 994.8C327.1 995.8 328.4 997.2 329.7 998.7C331 1000.1 332.5 1002.2 333.6 1003.5C334.7 1004.8 335.5 1005.8 336.5 1006.4C337.5 1007.1 338.2 1007.2 339.4 1007.4C340.6 1007.6 342.7 1007.6 343.9 1007.5C345.1 1007.4 345.8 1006.7 346.8 1006.8C347.8 1006.9 348.6 1007.6 349.7 1008.3C350.8 1009 352.3 1010.2 353.6 1010.8C354.9 1011.3 356.2 1011.8 357.5 1011.6C358.8 1011.4 360.1 1010.4 361.4 1009.8C362.7 1009.3 364 1008.6 365.3 1008.4C366.6 1008.2 367.8 1008.4 369.1 1008.9C370.4 1009.4 371.7 1010.4 373 1011.3C374.3 1012.2 375.6 1013.2 376.9 1014.2C378.2 1015.2 379.5 1016.2 380.8 1017.1C382.1 1018 383.2 1019 384.7 1019.6C386.1 1020.2 387.9 1020.6 389.5 1020.7C391.2 1020.9 392.8 1020.9 394.4 1020.5C396 1020.2 397.6 1019.5 399.3 1018.6C400.9 1017.7 402.5 1016.3 404.1 1015.2C405.7 1014.1 407.5 1012.6 409 1011.8C410.4 1011 411.6 1010.5 412.9 1010.3C414.1 1010.1 415.4 1010.2 416.7 1010.6C418 1011 419.3 1012 420.6 1012.8C421.9 1013.5 423.1 1014.7 424.5 1015.2C426 1015.7 427.6 1015.8 429.4 1015.9C431.1 1016 433.2 1015.8 435.2 1015.9C437.1 1016 439.1 1016.1 441 1016.5C443 1016.8 445.1 1017.6 446.8 1018.1C448.6 1018.6 450.1 1019.2 451.7 1019.6C453.3 1019.9 454.9 1020.1 456.6 1020C458.2 1020 459.8 1019.6 461.4 1019.1C463 1018.6 464.7 1017.7 466.3 1017.1C467.9 1016.5 469.4 1015.9 471.1 1015.5C472.9 1015.1 475 1014.8 477 1014.7C478.9 1014.7 480.8 1014.9 482.8 1015.2C484.7 1015.5 486.7 1016.1 488.6 1016.6C490.6 1017.2 492.5 1018.1 494.4 1018.6C496.4 1019 498.5 1019.3 500.3 1019.4C502.1 1019.4 503.5 1018.9 505.1 1018.8C506.7 1018.7 508.4 1018.6 510 1018.8C511.6 1019 513.2 1019.7 514.8 1020C516.5 1020.4 517.5 1020.7 519.7 1020.8C521.9 1021 526.7 1021 528.1 1021" fill="none" stroke="#1aa3d8" stroke-width="2.7" stroke-linejoin="round" stroke-linecap="round"/>
<rect x="151.8" y="1132.7" width="344.5" height="129.3" fill="#fff" stroke="#000" stroke-width="1.9"/>
<line x1="161.4" y1="1150.6" x2="209.2" y2="1150.6" stroke="#000" stroke-width="2.3" stroke-linecap="round"/>
<text x="222.2" y="1158.5" font-size="22.8" text-anchor="start" fill="#000" word-spacing="1.2">N-FLucNC</text>
<line x1="161.4" y1="1181.1" x2="209.2" y2="1181.1" stroke="#90278f" stroke-width="2.3" stroke-linecap="round"/>
<text x="222.2" y="1189.3" font-size="22.8" text-anchor="start" fill="#000" word-spacing="0.1">Spont. (MF)</text>
<line x1="161.4" y1="1211.3" x2="209.2" y2="1211.3" stroke="#de2a2b" stroke-width="2.3" stroke-linecap="round"/>
<text x="222.2" y="1219.7" font-size="22.8" text-anchor="start" fill="#000" word-spacing="1.2">MF + KJ-ATP</text>
<line x1="161.4" y1="1240.1" x2="209.2" y2="1240.1" stroke="#1aa3d8" stroke-width="2.3" stroke-linecap="round"/>
<text x="222.2" y="1249.7" font-size="22.8" text-anchor="start" fill="#000" word-spacing="1.2">MF + KJ-ATP</text>
<path d="M364.3 1240.4H377" fill="none" stroke="#000" stroke-width="1.1"/>
<path d="M383.3 1240.4L374.6 1236.9L377 1240.4L374.6 1243.9Z" fill="#000"/>
<text x="391.2" y="1249.7" font-size="22.8" text-anchor="start" fill="#000">+GrpE</text>
</svg>
</body>
</html>
